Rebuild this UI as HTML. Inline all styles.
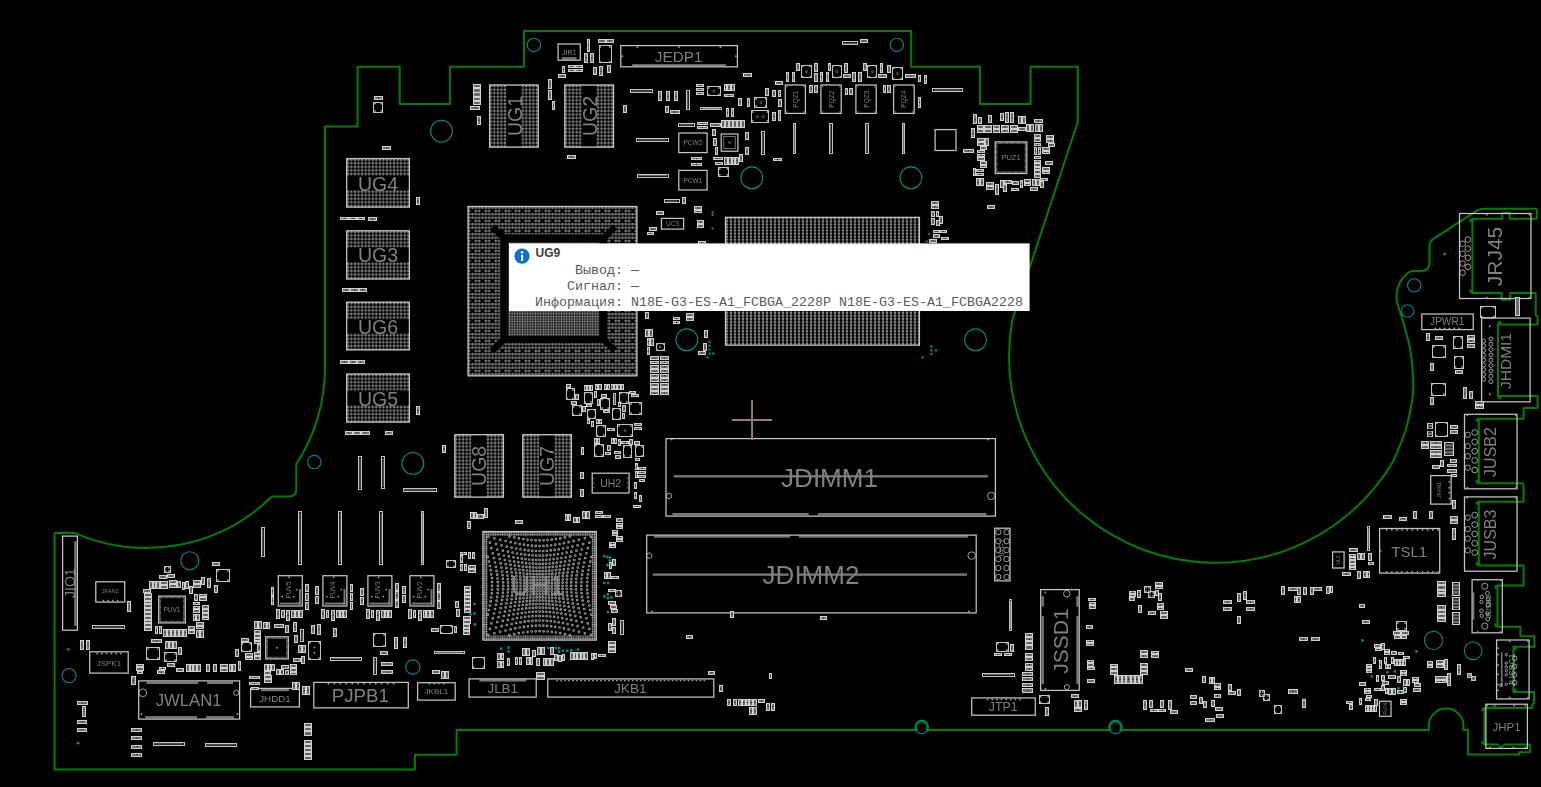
<!DOCTYPE html>
<html><head><meta charset="utf-8"><title>Board view</title>
<style>
html,body{margin:0;padding:0;background:#000;overflow:hidden}
svg{display:block}
#brd{will-change:transform}
#tip{position:absolute;left:0;top:0}
text{font-family:"Liberation Sans",sans-serif}
.m{font-family:"Liberation Mono",monospace;font-size:13.33px;fill:#5c5c5c}
.b{font-family:"Liberation Sans",sans-serif;font-weight:bold;font-size:12px;fill:#3c3c3c}
</style></head><body>
<svg id="brd" width="1541" height="787" viewBox="0 0 1541 787">
<defs>
<pattern id="p35" width="3.55" height="3.55" patternUnits="userSpaceOnUse"><circle cx="1.775" cy="1.775" r="1.3" fill="#909090"/><circle cx="1.775" cy="1.775" r="0.5" fill="#404040"/></pattern>
<pattern id="p33" width="3.32" height="3.32" patternUnits="userSpaceOnUse"><circle cx="1.66" cy="1.66" r="1.22" fill="#949494"/><circle cx="1.66" cy="1.66" r="0.45" fill="#404040"/></pattern>
<pattern id="pcpu" width="4" height="3.05" patternUnits="userSpaceOnUse"><ellipse cx="2" cy="1.52" rx="1.25" ry="1.3" fill="#989898"/><circle cx="2" cy="1.52" r="0.4" fill="#505050"/></pattern>
<pattern id="pfine" width="1.6" height="3" patternUnits="userSpaceOnUse"><rect x="0.25" y="0" width="1.05" height="3" fill="#b4b4b4"/></pattern>
<pattern id="pfinev" width="3" height="1.6" patternUnits="userSpaceOnUse"><rect x="0" y="0.25" width="3" height="1.05" fill="#b4b4b4"/></pattern>
<pattern id="pgpu" width="9.999" height="9.999" patternUnits="userSpaceOnUse"><circle cx="1.67" cy="1.67" r="1.22" fill="#949494"/><circle cx="1.67" cy="1.67" r="0.45" fill="#404040"/><circle cx="1.67" cy="5.00" r="1.22" fill="#949494"/><circle cx="1.67" cy="5.00" r="0.45" fill="#404040"/><circle cx="1.67" cy="8.33" r="1.22" fill="#949494"/><circle cx="1.67" cy="8.33" r="0.45" fill="#404040"/><circle cx="5.00" cy="1.67" r="1.22" fill="#949494"/><circle cx="5.00" cy="1.67" r="0.45" fill="#404040"/><circle cx="5.00" cy="8.33" r="1.22" fill="#949494"/><circle cx="5.00" cy="8.33" r="0.45" fill="#404040"/><circle cx="8.33" cy="1.67" r="1.22" fill="#949494"/><circle cx="8.33" cy="1.67" r="0.45" fill="#404040"/><circle cx="8.33" cy="5.00" r="1.22" fill="#949494"/><circle cx="8.33" cy="5.00" r="0.45" fill="#404040"/><circle cx="8.33" cy="8.33" r="1.22" fill="#949494"/><circle cx="8.33" cy="8.33" r="0.45" fill="#404040"/></pattern>
<pattern id="pcore" width="2.6" height="2.6" patternUnits="userSpaceOnUse"><circle cx="1.3" cy="1.3" r="1.05" fill="#8c8c8c"/></pattern>
<pattern id="pring" width="2.3" height="2.3" patternUnits="userSpaceOnUse"><circle cx="1.15" cy="1.15" r="0.95" fill="#b0b0b0"/></pattern>
</defs>

<rect width="1541" height="787" fill="#000"/>
<path d="M325,126.4 H357.6 V66.7 H399.7 V104.1 H450 V66.7 H524 V30.9 H911.2 V66.7 H980 V104.1 H1030.6 V66.7 H1077.8 V122 L1012.3,320 A206.4,206.4 0 0 0 1393.4,461 C1395.4,455.9 1402.4,440.7 1405.5,430.5 C1408.6,420.3 1410.9,407.9 1412.2,400 C1413.5,392.1 1413.6,391.2 1413.3,383 C1413,374.8 1412.2,361.4 1410.5,351 C1408.8,340.6 1405.1,329.2 1402.8,320.5 C1400.5,311.8 1397.1,305.2 1396.6,299 C1396.1,292.8 1397.5,287.5 1399.6,283 C1401.7,278.5 1406.3,274.2 1409,272.2 C1411.7,270.2 1414.8,271.1 1416,270.9 H1421.5 Q1429.5,271 1429.5,262 V246 Q1429.5,241 1434.5,238.2 L1477,210.6 Q1480,208.7 1484,208.7 H1535.4 Q1536.8,208.7 1536.8,210.1 V218.8 H1509.8 V213.1 H1502.2 V218.8 H1472.4 V290.8 V293.1 H1501.7 V299.7 H1510.3 V293.1 H1535.7 V315 L1537.6,316.8 V324.4 H1498 V396 H1537.6 V408 H1523.6 V418.8 H1478.8 V483.3 H1522.2 Q1523.6,483.3 1523.6,484.7 V501.8 H1478.8 V565.5 H1522.2 Q1523.6,565.5 1523.6,566.9 V585.4 H1497.5 V626.7 H1520.4 V636.2 H1534.4 V646.8 H1513.4 V692 H1534.1 V702.8 L1532.4,704.5 V708 H1484.4 V744.4 H1497.7 Q1501,750 1504.3,744.4 H1529.9 V752.3 H1519.2 V754.5 H1468 V730 H1463.5 V725.9 A17.35,17.35 0 0 0 1428.8,725.9 V730 H1120.2 A5.5,5.5 0 1 0 1110.8,730 H926.4 A5.5,5.5 0 1 0 917,730 H456.6 V754.8 H414.9 V769.4 H54.6 V532.9 H74.3 A179.5,179.5 0 0 0 271.9,496.5 H289 Q296.3,496.5 296.3,489 V464.2 A179.5,179.5 0 0 0 325,368.5 Z" fill="none" stroke="#008000" stroke-width="2" stroke-linejoin="round"/>
<circle cx="1471.4" cy="220.6" r="1.7" fill="#008000" stroke="#008000" stroke-width="0.6"/>
<circle cx="1471.4" cy="291.3" r="1.7" fill="#008000" stroke="#008000" stroke-width="0.6"/>
<circle cx="1499.6" cy="322.8" r="1.7" fill="#008000" stroke="#008000" stroke-width="0.6"/>
<circle cx="1499.6" cy="397.4" r="1.7" fill="#008000" stroke="#008000" stroke-width="0.6"/>
<circle cx="1477.6" cy="420.3" r="1.7" fill="#008000" stroke="#008000" stroke-width="0.6"/>
<circle cx="1477.6" cy="481.8" r="1.7" fill="#008000" stroke="#008000" stroke-width="0.6"/>
<circle cx="1477.6" cy="503.3" r="1.7" fill="#008000" stroke="#008000" stroke-width="0.6"/>
<circle cx="1477.6" cy="564" r="1.7" fill="#008000" stroke="#008000" stroke-width="0.6"/>
<circle cx="1496.2" cy="587" r="1.7" fill="#008000" stroke="#008000" stroke-width="0.6"/>
<circle cx="1496.2" cy="625.2" r="1.7" fill="#008000" stroke="#008000" stroke-width="0.6"/>
<circle cx="1514.8" cy="648.3" r="1.7" fill="#008000" stroke="#008000" stroke-width="0.6"/>
<circle cx="1514.8" cy="690.6" r="1.7" fill="#008000" stroke="#008000" stroke-width="0.6"/>
<circle cx="1483.2" cy="709.6" r="1.7" fill="#008000" stroke="#008000" stroke-width="0.6"/>
<circle cx="1483.2" cy="742.8" r="1.7" fill="#008000" stroke="#008000" stroke-width="0.6"/>
<circle cx="1494.6" cy="706.5" r="1.7" fill="#008000" stroke="#008000" stroke-width="0.6"/>
<circle cx="921.7" cy="727.1" r="6.7" fill="none" stroke="#008b8b" stroke-width="1.1"/>
<circle cx="1115.5" cy="727.1" r="6.7" fill="none" stroke="#008b8b" stroke-width="1.1"/>
<rect transform="translate(489 84.4)" width="49.8" height="63.3" fill="url(#p35)"/>
<rect x="506.9" y="85.2" width="14.5" height="61.7" fill="#000" stroke="none" stroke-width="0"/>
<rect x="489.6" y="85" width="48.6" height="62.1" fill="none" stroke="#c4c4c4" stroke-width="1.3"/>
<text x="514.6" y="116" font-size="19.5" fill="#808080" text-anchor="middle" dominant-baseline="central" transform="rotate(-90 514.6 116)">UG1</text>
<rect transform="translate(564.2 84.4)" width="49.9" height="63.3" fill="url(#p35)"/>
<rect x="582.2" y="85.2" width="14.2" height="61.7" fill="#000" stroke="none" stroke-width="0"/>
<rect x="564.8" y="85" width="48.7" height="62.1" fill="none" stroke="#c4c4c4" stroke-width="1.3"/>
<text x="589.8" y="116" font-size="19.5" fill="#808080" text-anchor="middle" dominant-baseline="central" transform="rotate(-90 589.8 116)">UG2</text>
<rect transform="translate(454.2 434.1)" width="49.8" height="63.6" fill="url(#p35)"/>
<rect x="471.3" y="434.9" width="15.1" height="62" fill="#000" stroke="none" stroke-width="0"/>
<rect x="454.8" y="434.7" width="48.6" height="62.4" fill="none" stroke="#c4c4c4" stroke-width="1.3"/>
<text x="479.4" y="465.9" font-size="19.5" fill="#808080" text-anchor="middle" dominant-baseline="central" transform="rotate(-90 479.4 465.9)">UG8</text>
<rect transform="translate(522.2 434.1)" width="49.8" height="63.6" fill="url(#p35)"/>
<rect x="539.3" y="434.9" width="15.1" height="62" fill="#000" stroke="none" stroke-width="0"/>
<rect x="522.8" y="434.7" width="48.6" height="62.4" fill="none" stroke="#c4c4c4" stroke-width="1.3"/>
<text x="547.3" y="465.9" font-size="19.5" fill="#808080" text-anchor="middle" dominant-baseline="central" transform="rotate(-90 547.3 465.9)">UG7</text>
<rect transform="translate(346.1 158)" width="63.9" height="49.7" fill="url(#p35)"/>
<rect x="346.9" y="176" width="62.3" height="14" fill="#000" stroke="none" stroke-width="0"/>
<rect x="346.7" y="158.6" width="62.7" height="48.5" fill="none" stroke="#c4c4c4" stroke-width="1.3"/>
<text x="378.1" y="183.6" font-size="19.5" fill="#808080" text-anchor="middle" dominant-baseline="central">UG4</text>
<rect transform="translate(346.1 230.2)" width="63.9" height="49.4" fill="url(#p35)"/>
<rect x="346.9" y="247.6" width="62.3" height="14.3" fill="#000" stroke="none" stroke-width="0"/>
<rect x="346.7" y="230.8" width="62.7" height="48.2" fill="none" stroke="#c4c4c4" stroke-width="1.3"/>
<text x="378.1" y="255.3" font-size="19.5" fill="#808080" text-anchor="middle" dominant-baseline="central">UG3</text>
<rect transform="translate(346.1 301.6)" width="63.9" height="48.8" fill="url(#p35)"/>
<rect x="346.9" y="319" width="62.3" height="14.3" fill="#000" stroke="none" stroke-width="0"/>
<rect x="346.7" y="302.2" width="62.7" height="47.6" fill="none" stroke="#c4c4c4" stroke-width="1.3"/>
<text x="378.1" y="326.8" font-size="19.5" fill="#808080" text-anchor="middle" dominant-baseline="central">UG6</text>
<rect transform="translate(346.1 373.4)" width="63.9" height="49.3" fill="url(#p35)"/>
<rect x="346.9" y="390.8" width="62.3" height="14.2" fill="#000" stroke="none" stroke-width="0"/>
<rect x="346.7" y="374" width="62.7" height="48.1" fill="none" stroke="#c4c4c4" stroke-width="1.3"/>
<text x="378.1" y="398.5" font-size="19.5" fill="#808080" text-anchor="middle" dominant-baseline="central">UG5</text>
<circle cx="441.5" cy="131.1" r="10.9" fill="none" stroke="#008b8b" stroke-width="1.1"/>
<circle cx="533.9" cy="44.9" r="6.7" fill="none" stroke="#008b8b" stroke-width="1.1"/>
<rect x="558.1" y="44" width="22.2" height="16.2" fill="none" stroke="#c4c4c4" stroke-width="1.25"/>
<text x="569.2" y="52.1" font-size="7" fill="#808080" text-anchor="middle" dominant-baseline="central">JIR1</text>
<rect x="562.2" y="57.4" width="14" height="2.2" fill="url(#pfine)" stroke="#8a8a8a" stroke-width="0.5"/>
<rect x="620.8" y="45.6" width="116.6" height="21.2" fill="none" stroke="#c4c4c4" stroke-width="1.25"/>
<text x="678.6" y="56.5" font-size="15.3" fill="#808080" text-anchor="middle" dominant-baseline="central">JEDP1</text>
<rect x="632.2" y="64.1" width="93.6" height="2.4" fill="url(#pfine)" stroke="none" stroke-width="0"/>
<circle cx="896.9" cy="44.9" r="6.7" fill="none" stroke="#008b8b" stroke-width="1.1"/>
<circle cx="751.8" cy="177.8" r="10.9" fill="none" stroke="#008b8b" stroke-width="1.1"/>
<circle cx="910.9" cy="177.8" r="10.9" fill="none" stroke="#008b8b" stroke-width="1.1"/>
<circle cx="806.5" cy="71.7" r="1" fill="none" stroke="#8a8a8a" stroke-width="0.7"/>
<circle cx="836.9" cy="71.7" r="1" fill="none" stroke="#8a8a8a" stroke-width="0.7"/>
<circle cx="872.5" cy="71.7" r="1" fill="none" stroke="#8a8a8a" stroke-width="0.7"/>
<circle cx="897.4" cy="73.5" r="1" fill="none" stroke="#8a8a8a" stroke-width="0.7"/>
<circle cx="713.9" cy="91.1" r="1" fill="none" stroke="#8a8a8a" stroke-width="0.7"/>
<circle cx="760.9" cy="102.5" r="1" fill="none" stroke="#8a8a8a" stroke-width="0.7"/>
<circle cx="757.5" cy="116.6" r="1" fill="none" stroke="#8a8a8a" stroke-width="0.7"/>
<circle cx="763.2" cy="116.6" r="1" fill="none" stroke="#8a8a8a" stroke-width="0.7"/>
<rect x="785.3" y="85" width="20.1" height="28.4" fill="none" stroke="#c4c4c4" stroke-width="1.25"/>
<text x="795.4" y="99.2" font-size="6.5" fill="#808080" text-anchor="middle" dominant-baseline="central" transform="rotate(-90 795.4 99.2)">PQZ1</text>
<circle cx="786.9" cy="86.6" r="0.6" fill="none" stroke="#8a8a8a" stroke-width="0.5"/>
<circle cx="803.8" cy="86.6" r="0.6" fill="none" stroke="#8a8a8a" stroke-width="0.5"/>
<circle cx="786.9" cy="111.8" r="0.6" fill="none" stroke="#8a8a8a" stroke-width="0.5"/>
<circle cx="803.8" cy="111.8" r="0.6" fill="none" stroke="#8a8a8a" stroke-width="0.5"/>
<rect x="820.9" y="85" width="20.3" height="28.4" fill="none" stroke="#c4c4c4" stroke-width="1.25"/>
<text x="831.1" y="99.2" font-size="6.5" fill="#808080" text-anchor="middle" dominant-baseline="central" transform="rotate(-90 831.1 99.2)">PQZ2</text>
<circle cx="822.5" cy="86.6" r="0.6" fill="none" stroke="#8a8a8a" stroke-width="0.5"/>
<circle cx="839.6" cy="86.6" r="0.6" fill="none" stroke="#8a8a8a" stroke-width="0.5"/>
<circle cx="822.5" cy="111.8" r="0.6" fill="none" stroke="#8a8a8a" stroke-width="0.5"/>
<circle cx="839.6" cy="111.8" r="0.6" fill="none" stroke="#8a8a8a" stroke-width="0.5"/>
<rect x="855.9" y="85" width="20.3" height="28.4" fill="none" stroke="#c4c4c4" stroke-width="1.25"/>
<text x="866.1" y="99.2" font-size="6.5" fill="#808080" text-anchor="middle" dominant-baseline="central" transform="rotate(-90 866.1 99.2)">PQZ3</text>
<circle cx="857.5" cy="86.6" r="0.6" fill="none" stroke="#8a8a8a" stroke-width="0.5"/>
<circle cx="874.7" cy="86.6" r="0.6" fill="none" stroke="#8a8a8a" stroke-width="0.5"/>
<circle cx="857.5" cy="111.8" r="0.6" fill="none" stroke="#8a8a8a" stroke-width="0.5"/>
<circle cx="874.7" cy="111.8" r="0.6" fill="none" stroke="#8a8a8a" stroke-width="0.5"/>
<rect x="893.6" y="85" width="20.6" height="28.4" fill="none" stroke="#c4c4c4" stroke-width="1.25"/>
<text x="903.9" y="99.2" font-size="6.5" fill="#808080" text-anchor="middle" dominant-baseline="central" transform="rotate(-90 903.9 99.2)">PQZ4</text>
<circle cx="895.2" cy="86.6" r="0.6" fill="none" stroke="#8a8a8a" stroke-width="0.5"/>
<circle cx="912.6" cy="86.6" r="0.6" fill="none" stroke="#8a8a8a" stroke-width="0.5"/>
<circle cx="895.2" cy="111.8" r="0.6" fill="none" stroke="#8a8a8a" stroke-width="0.5"/>
<circle cx="912.6" cy="111.8" r="0.6" fill="none" stroke="#8a8a8a" stroke-width="0.5"/>
<rect x="721.2" y="134" width="16.7" height="17.2" fill="none" stroke="#c4c4c4" stroke-width="1.25"/>
<rect x="723.8" y="136.6" width="11.5" height="12" fill="none" stroke="#8a8a8a" stroke-width="0.8"/>
<circle cx="729.6" cy="142.6" r="1" fill="none" stroke="#8a8a8a" stroke-width="0.7"/>
<rect x="678.8" y="133" width="28.3" height="19.6" fill="none" stroke="#c4c4c4" stroke-width="1.25"/>
<text x="692.9" y="142.8" font-size="6.5" fill="#808080" text-anchor="middle" dominant-baseline="central">PCW2</text>
<rect x="678.8" y="170.4" width="28.3" height="19.6" fill="none" stroke="#c4c4c4" stroke-width="1.25"/>
<text x="692.9" y="180.2" font-size="6.5" fill="#808080" text-anchor="middle" dominant-baseline="central">PCW1</text>
<rect x="935.1" y="129.6" width="20.9" height="20.9" fill="none" stroke="#c4c4c4" stroke-width="1.25"/>
<circle cx="712.6" cy="212.1" r="1.2" fill="#008b8b" stroke="#008b8b" stroke-width="0"/>
<circle cx="712.6" cy="214.7" r="1.2" fill="#008b8b" stroke="#008b8b" stroke-width="0"/>
<rect x="995.2" y="141.9" width="31.6" height="31.6" fill="none" stroke="#c4c4c4" stroke-width="1.25"/>
<text x="1011" y="157.7" font-size="7.5" fill="#808080" text-anchor="middle" dominant-baseline="central">PUZ1</text>
<rect x="996.6" y="143.3" width="28.8" height="28.8" fill="none" stroke="#8a8a8a" stroke-width="1.6" stroke-dasharray="0.7 0.5"/>
<circle cx="660.3" cy="347" r="1" fill="none" stroke="#8a8a8a" stroke-width="0.7"/>
<circle cx="686.8" cy="339.8" r="10.9" fill="none" stroke="#008b8b" stroke-width="1.1"/>
<rect x="661.4" y="218.4" width="22.2" height="10.7" fill="none" stroke="#c4c4c4" stroke-width="1.25"/>
<text x="672.5" y="223.7" font-size="6.5" fill="#808080" text-anchor="middle" dominant-baseline="central">UC3</text>
<rect transform="translate(467.5 205.9)" width="170" height="170.5" fill="url(#pgpu)"/>
<rect x="468.1" y="206.5" width="168.8" height="169.3" fill="none" stroke="#c4c4c4" stroke-width="1.3"/>
<rect transform="translate(506.7 240.8)" width="94" height="96" fill="#000"/>
<rect transform="translate(508.2 242.3)" width="91" height="93.6" fill="url(#pcore)"/>
<rect x="503.5" y="237.6" width="100.4" height="102.3" fill="none" stroke="#000" stroke-width="6.5"/>
<line x1="503.5" y1="237.6" x2="492.5" y2="227" stroke="#000" stroke-width="6.5"/>
<line x1="603.9" y1="237.6" x2="615" y2="227" stroke="#000" stroke-width="6.5"/>
<line x1="503.5" y1="339.9" x2="492.5" y2="350.5" stroke="#000" stroke-width="6.5"/>
<line x1="603.9" y1="339.9" x2="615" y2="350.5" stroke="#000" stroke-width="6.5"/>
<rect transform="translate(724.9 216.8)" width="195.1" height="128.9" fill="url(#pcpu)"/>
<rect x="725.5" y="217.4" width="193.9" height="127.7" fill="none" stroke="#c4c4c4" stroke-width="1.3"/>
<circle cx="975.5" cy="339.8" r="10.9" fill="none" stroke="#008b8b" stroke-width="1.1"/>
<circle cx="712.6" cy="228.4" r="1.2" fill="#008b8b" stroke="#008b8b" stroke-width="0"/>
<circle cx="929.3" cy="234.1" r="1.2" fill="#008b8b" stroke="#008b8b" stroke-width="0"/>
<circle cx="926.7" cy="241.4" r="1.2" fill="#008b8b" stroke="#008b8b" stroke-width="0"/>
<circle cx="709.5" cy="341.8" r="1.2" fill="#008b8b" stroke="#008b8b" stroke-width="0"/>
<circle cx="709.5" cy="345.7" r="1.2" fill="#008b8b" stroke="#008b8b" stroke-width="0"/>
<circle cx="709.5" cy="349.6" r="1.2" fill="#008b8b" stroke="#008b8b" stroke-width="0"/>
<circle cx="709.5" cy="353.5" r="1.2" fill="#008b8b" stroke="#008b8b" stroke-width="0"/>
<circle cx="713.4" cy="353.5" r="1.2" fill="#008b8b" stroke="#008b8b" stroke-width="0"/>
<circle cx="707.4" cy="357.4" r="1.2" fill="#008b8b" stroke="#008b8b" stroke-width="0"/>
<circle cx="931.4" cy="346.5" r="1.2" fill="#008b8b" stroke="#008b8b" stroke-width="0"/>
<circle cx="931.4" cy="350.4" r="1.2" fill="#008b8b" stroke="#008b8b" stroke-width="0"/>
<circle cx="931.4" cy="354" r="1.2" fill="#008b8b" stroke="#008b8b" stroke-width="0"/>
<circle cx="936.1" cy="350.4" r="1.2" fill="#008b8b" stroke="#008b8b" stroke-width="0"/>
<circle cx="922.6" cy="357.4" r="1.2" fill="#008b8b" stroke="#008b8b" stroke-width="0"/>
<circle cx="314.3" cy="462.1" r="6.7" fill="none" stroke="#008b8b" stroke-width="1.1"/>
<circle cx="412.9" cy="463.4" r="10.9" fill="none" stroke="#008b8b" stroke-width="1.1"/>
<circle cx="625" cy="430.5" r="1" fill="none" stroke="#8a8a8a" stroke-width="0.7"/>
<rect x="592.2" y="473.2" width="36.9" height="19.8" fill="none" stroke="#c4c4c4" stroke-width="1.25"/>
<text x="610.7" y="483.1" font-size="10.5" fill="#808080" text-anchor="middle" dominant-baseline="central">UH2</text>
<circle cx="593.8" cy="478.6" r="0.6" fill="none" stroke="#8a8a8a" stroke-width="0.5"/>
<circle cx="627.5" cy="478.6" r="0.6" fill="none" stroke="#8a8a8a" stroke-width="0.5"/>
<circle cx="593.8" cy="483.1" r="0.6" fill="none" stroke="#8a8a8a" stroke-width="0.5"/>
<circle cx="627.5" cy="483.1" r="0.6" fill="none" stroke="#8a8a8a" stroke-width="0.5"/>
<circle cx="593.8" cy="487.6" r="0.6" fill="none" stroke="#8a8a8a" stroke-width="0.5"/>
<circle cx="627.5" cy="487.6" r="0.6" fill="none" stroke="#8a8a8a" stroke-width="0.5"/>
<circle cx="474.5" cy="603.9" r="1.4" fill="#008b8b" stroke="#008b8b" stroke-width="0"/>
<circle cx="474.5" cy="613.4" r="1.4" fill="#008b8b" stroke="#008b8b" stroke-width="0"/>
<circle cx="470.5" cy="614.4" r="1.4" fill="#008b8b" stroke="#008b8b" stroke-width="0"/>
<circle cx="474.9" cy="624.5" r="1.4" fill="#008b8b" stroke="#008b8b" stroke-width="0"/>
<circle cx="604.3" cy="556.2" r="1.4" fill="#008b8b" stroke="#008b8b" stroke-width="0"/>
<circle cx="607.4" cy="557.2" r="1.4" fill="#008b8b" stroke="#008b8b" stroke-width="0"/>
<circle cx="610.1" cy="557.6" r="1.4" fill="#008b8b" stroke="#008b8b" stroke-width="0"/>
<circle cx="607.4" cy="565.2" r="1.4" fill="#008b8b" stroke="#008b8b" stroke-width="0"/>
<circle cx="610.1" cy="560.6" r="1.4" fill="#008b8b" stroke="#008b8b" stroke-width="0"/>
<circle cx="604.3" cy="583.1" r="1.4" fill="#008b8b" stroke="#008b8b" stroke-width="0"/>
<circle cx="608.2" cy="583.1" r="1.4" fill="#008b8b" stroke="#008b8b" stroke-width="0"/>
<circle cx="604.3" cy="596.5" r="1.4" fill="#008b8b" stroke="#008b8b" stroke-width="0"/>
<circle cx="607.8" cy="594.4" r="1.4" fill="#008b8b" stroke="#008b8b" stroke-width="0"/>
<circle cx="607.8" cy="598.2" r="1.4" fill="#008b8b" stroke="#008b8b" stroke-width="0"/>
<circle cx="611.6" cy="597.4" r="1.4" fill="#008b8b" stroke="#008b8b" stroke-width="0"/>
<circle cx="607.8" cy="612.1" r="1.4" fill="#008b8b" stroke="#008b8b" stroke-width="0"/>
<circle cx="501.2" cy="648.7" r="1.4" fill="#008b8b" stroke="#008b8b" stroke-width="0"/>
<circle cx="508.6" cy="647.7" r="1.4" fill="#008b8b" stroke="#008b8b" stroke-width="0"/>
<circle cx="508.6" cy="651.6" r="1.4" fill="#008b8b" stroke="#008b8b" stroke-width="0"/>
<circle cx="548.3" cy="648.1" r="1.4" fill="#008b8b" stroke="#008b8b" stroke-width="0"/>
<circle cx="555.9" cy="648.1" r="1.4" fill="#008b8b" stroke="#008b8b" stroke-width="0"/>
<circle cx="559.2" cy="648.1" r="1.4" fill="#008b8b" stroke="#008b8b" stroke-width="0"/>
<circle cx="559.2" cy="651.6" r="1.4" fill="#008b8b" stroke="#008b8b" stroke-width="0"/>
<circle cx="563" cy="650.6" r="1.4" fill="#008b8b" stroke="#008b8b" stroke-width="0"/>
<circle cx="567.2" cy="650.8" r="1.4" fill="#008b8b" stroke="#008b8b" stroke-width="0"/>
<circle cx="571.4" cy="650.2" r="1.4" fill="#008b8b" stroke="#008b8b" stroke-width="0"/>
<circle cx="578" cy="649.6" r="1.4" fill="#008b8b" stroke="#008b8b" stroke-width="0"/>
<path d="M487.9,557h0M489,561.6h0M489.9,566h0M490.7,570.2h0M491.3,574.3h0M491.8,578.2h0M492,582h0M492.1,585.8h0M492,589.6h0M491.8,593.4h0M491.3,597.3h0M490.7,601.4h0M489.9,605.6h0M489,610h0M487.9,614.6h0M488.3,536.8h0M489.9,542.7h0M491.4,548.2h0M492.8,553.3h0M494,558.1h0M495,562.6h0M495.9,566.8h0M496.6,570.9h0M497.2,574.7h0M497.6,578.5h0M497.8,582.2h0M497.9,585.8h0M497.8,589.4h0M497.6,593.1h0M497.2,596.9h0M496.6,600.7h0M495.9,604.8h0M495,609h0M494,613.5h0M492.8,618.3h0M491.4,623.4h0M489.9,628.9h0M488.3,634.8h0M494.4,538.3h0M496,544.1h0M497.3,549.5h0M498.6,554.4h0M499.7,559.1h0M500.6,563.4h0M501.4,567.6h0M502.1,571.5h0M502.6,575.2h0M502.9,578.8h0M503.1,582.3h0M503.2,585.8h0M503.1,589.3h0M502.9,592.8h0M502.6,596.4h0M502.1,600.1h0M501.4,604h0M500.6,608.2h0M499.7,612.5h0M498.6,617.2h0M497.3,622.1h0M496,627.5h0M494.4,633.3h0M500.2,539.8h0M501.6,545.4h0M502.8,550.7h0M503.9,555.5h0M504.9,560h0M505.7,564.2h0M506.5,568.2h0M507,572h0M507.5,575.6h0M507.8,579.1h0M508,582.4h0M508.1,585.8h0M508,589.2h0M507.8,592.5h0M507.5,596h0M507,599.6h0M506.5,603.4h0M505.7,607.4h0M504.9,611.6h0M503.9,616.1h0M502.8,620.9h0M501.6,626.2h0M500.2,631.8h0M505.6,541.1h0M506.8,546.6h0M507.9,551.7h0M508.9,556.4h0M509.7,560.8h0M510.5,564.9h0M511.1,568.8h0M511.6,572.4h0M512.1,575.9h0M512.3,579.3h0M512.5,582.6h0M512.6,585.8h0M512.5,589h0M512.3,592.3h0M512.1,595.7h0M511.6,599.2h0M511.1,602.8h0M510.5,606.7h0M509.7,610.8h0M508.9,615.2h0M507.9,619.9h0M506.8,625h0M505.6,630.5h0M509.4,536.4h0M510.6,542.2h0M511.6,547.6h0M512.6,552.6h0M513.5,557.3h0M514.2,561.6h0M514.9,565.6h0M515.4,569.3h0M515.9,572.9h0M516.3,576.2h0M516.5,579.5h0M516.7,582.7h0M516.7,585.8h0M516.7,588.9h0M516.5,592.1h0M516.3,595.4h0M515.9,598.7h0M515.4,602.3h0M514.9,606h0M514.2,610h0M513.5,614.3h0M512.6,619h0M511.6,624h0M510.6,629.4h0M509.4,635.2h0M514.3,537.4h0M515.3,543.2h0M516.2,548.5h0M517,553.5h0M517.8,558h0M518.4,562.2h0M519,566.1h0M519.5,569.8h0M519.9,573.2h0M520.2,576.5h0M520.4,579.7h0M520.5,582.8h0M520.5,585.8h0M520.5,588.8h0M520.4,591.9h0M520.2,595.1h0M519.9,598.4h0M519.5,601.8h0M519,605.5h0M518.4,609.4h0M517.8,613.6h0M517,618.1h0M516.2,623.1h0M515.3,628.4h0M514.3,634.2h0M518.9,538.4h0M519.7,544.1h0M520.5,549.3h0M521.2,554.1h0M521.8,558.6h0M522.3,562.7h0M522.8,566.6h0M523.2,570.1h0M523.5,573.5h0M523.8,576.7h0M524,579.8h0M524.1,582.8h0M524.1,585.8h0M524.1,588.8h0M524,591.8h0M523.8,594.9h0M523.5,598.1h0M523.2,601.5h0M522.8,605h0M522.3,608.9h0M521.8,613h0M521.2,617.5h0M520.5,622.3h0M519.7,627.5h0M518.9,633.2h0M523.3,539.1h0M524,544.7h0M524.6,549.9h0M525.1,554.7h0M525.6,559.1h0M526.1,563.2h0M526.4,566.9h0M526.8,570.5h0M527,573.8h0M527.2,576.9h0M527.4,580h0M527.4,582.9h0M527.5,585.8h0M527.4,588.7h0M527.4,591.6h0M527.2,594.7h0M527,597.8h0M526.8,601.1h0M526.4,604.7h0M526.1,608.4h0M525.6,612.5h0M525.1,616.9h0M524.6,621.7h0M524,626.9h0M523.3,632.5h0M527.5,539.7h0M528,545.3h0M528.5,550.4h0M528.9,555.1h0M529.3,559.5h0M529.6,563.5h0M529.9,567.2h0M530.1,570.7h0M530.3,574h0M530.5,577.1h0M530.6,580.1h0M530.6,582.9h0M530.7,585.8h0M530.6,588.7h0M530.6,591.5h0M530.5,594.5h0M530.3,597.6h0M530.1,600.9h0M529.9,604.4h0M529.6,608.1h0M529.3,612.1h0M528.9,616.5h0M528.5,621.2h0M528,626.3h0M527.5,631.9h0M531.6,540.1h0M532,545.7h0M532.3,550.8h0M532.5,555.4h0M532.8,559.8h0M533,563.7h0M533.2,567.4h0M533.4,570.9h0M533.5,574.1h0M533.6,577.2h0M533.7,580.1h0M533.7,583h0M533.7,585.8h0M533.7,588.6h0M533.7,591.5h0M533.6,594.4h0M533.5,597.5h0M533.4,600.7h0M533.2,604.2h0M533,607.9h0M532.8,611.8h0M532.5,616.2h0M532.3,620.8h0M532,625.9h0M531.6,631.5h0M535.6,540.3h0M535.8,545.9h0M536,551h0M536.1,555.6h0M536.2,559.9h0M536.3,563.9h0M536.4,567.6h0M536.5,571h0M536.6,574.2h0M536.6,577.2h0M536.6,580.2h0M536.7,583h0M536.7,585.8h0M536.7,588.6h0M536.6,591.4h0M536.6,594.4h0M536.6,597.4h0M536.5,600.6h0M536.4,604h0M536.3,607.7h0M536.2,611.7h0M536.1,616h0M536,620.6h0M535.8,625.7h0M535.6,631.3h0M539.6,540.4h0M539.6,546h0M539.6,551h0M539.6,555.7h0M539.6,560h0M539.6,563.9h0M539.6,567.6h0M539.6,571h0M539.6,574.2h0M539.6,577.3h0M539.6,580.2h0M539.6,583h0M539.6,585.8h0M539.6,588.6h0M539.6,591.4h0M539.6,594.3h0M539.6,597.4h0M539.6,600.6h0M539.6,604h0M539.6,607.7h0M539.6,611.6h0M539.6,615.9h0M539.6,620.6h0M539.6,625.6h0M539.6,631.2h0M543.6,540.3h0M543.4,545.9h0M543.2,551h0M543.1,555.6h0M543,559.9h0M542.9,563.9h0M542.8,567.6h0M542.7,571h0M542.6,574.2h0M542.6,577.2h0M542.6,580.2h0M542.5,583h0M542.5,585.8h0M542.5,588.6h0M542.6,591.4h0M542.6,594.4h0M542.6,597.4h0M542.7,600.6h0M542.8,604h0M542.9,607.7h0M543,611.7h0M543.1,616h0M543.2,620.6h0M543.4,625.7h0M543.6,631.3h0M547.6,540.1h0M547.2,545.7h0M546.9,550.8h0M546.7,555.4h0M546.4,559.8h0M546.2,563.7h0M546,567.4h0M545.8,570.9h0M545.7,574.1h0M545.6,577.2h0M545.5,580.1h0M545.5,583h0M545.5,585.8h0M545.5,588.6h0M545.5,591.5h0M545.6,594.4h0M545.7,597.5h0M545.8,600.7h0M546,604.2h0M546.2,607.9h0M546.4,611.8h0M546.7,616.2h0M546.9,620.8h0M547.2,625.9h0M547.6,631.5h0M551.7,539.7h0M551.2,545.3h0M550.7,550.4h0M550.3,555.1h0M549.9,559.5h0M549.6,563.5h0M549.3,567.2h0M549.1,570.7h0M548.9,574h0M548.7,577.1h0M548.6,580.1h0M548.6,582.9h0M548.5,585.8h0M548.6,588.7h0M548.6,591.5h0M548.7,594.5h0M548.9,597.6h0M549.1,600.9h0M549.3,604.4h0M549.6,608.1h0M549.9,612.1h0M550.3,616.5h0M550.7,621.2h0M551.2,626.3h0M551.7,631.9h0M555.9,539.1h0M555.2,544.7h0M554.6,549.9h0M554.1,554.7h0M553.6,559.1h0M553.1,563.2h0M552.8,566.9h0M552.4,570.5h0M552.2,573.8h0M552,576.9h0M551.8,580h0M551.8,582.9h0M551.7,585.8h0M551.8,588.7h0M551.8,591.6h0M552,594.7h0M552.2,597.8h0M552.4,601.1h0M552.8,604.7h0M553.1,608.4h0M553.6,612.5h0M554.1,616.9h0M554.6,621.7h0M555.2,626.9h0M555.9,632.5h0M560.3,538.4h0M559.5,544.1h0M558.7,549.3h0M558,554.1h0M557.4,558.6h0M556.9,562.7h0M556.4,566.6h0M556,570.1h0M555.7,573.5h0M555.4,576.7h0M555.2,579.8h0M555.1,582.8h0M555.1,585.8h0M555.1,588.8h0M555.2,591.8h0M555.4,594.9h0M555.7,598.1h0M556,601.5h0M556.4,605h0M556.9,608.9h0M557.4,613h0M558,617.5h0M558.7,622.3h0M559.5,627.5h0M560.3,633.2h0M564.9,537.4h0M563.9,543.2h0M563,548.5h0M562.2,553.5h0M561.4,558h0M560.8,562.2h0M560.2,566.1h0M559.7,569.8h0M559.3,573.2h0M559,576.5h0M558.8,579.7h0M558.7,582.8h0M558.7,585.8h0M558.7,588.8h0M558.8,591.9h0M559,595.1h0M559.3,598.4h0M559.7,601.8h0M560.2,605.5h0M560.8,609.4h0M561.4,613.6h0M562.2,618.1h0M563,623.1h0M563.9,628.4h0M564.9,634.2h0M569.8,536.4h0M568.6,542.2h0M567.6,547.6h0M566.6,552.6h0M565.7,557.3h0M565,561.6h0M564.3,565.6h0M563.8,569.3h0M563.3,572.9h0M562.9,576.2h0M562.7,579.5h0M562.5,582.7h0M562.5,585.8h0M562.5,588.9h0M562.7,592.1h0M562.9,595.4h0M563.3,598.7h0M563.8,602.3h0M564.3,606h0M565,610h0M565.7,614.3h0M566.6,619h0M567.6,624h0M568.6,629.4h0M569.8,635.2h0M573.6,541.1h0M572.4,546.6h0M571.3,551.7h0M570.3,556.4h0M569.5,560.8h0M568.7,564.9h0M568.1,568.8h0M567.6,572.4h0M567.1,575.9h0M566.9,579.3h0M566.7,582.6h0M566.6,585.8h0M566.7,589h0M566.9,592.3h0M567.1,595.7h0M567.6,599.2h0M568.1,602.8h0M568.7,606.7h0M569.5,610.8h0M570.3,615.2h0M571.3,619.9h0M572.4,625h0M573.6,630.5h0M579,539.8h0M577.6,545.4h0M576.4,550.7h0M575.3,555.5h0M574.3,560h0M573.5,564.2h0M572.7,568.2h0M572.2,572h0M571.7,575.6h0M571.4,579.1h0M571.2,582.4h0M571.1,585.8h0M571.2,589.2h0M571.4,592.5h0M571.7,596h0M572.2,599.6h0M572.7,603.4h0M573.5,607.4h0M574.3,611.6h0M575.3,616.1h0M576.4,620.9h0M577.6,626.2h0M579,631.8h0M584.8,538.3h0M583.2,544.1h0M581.9,549.5h0M580.6,554.4h0M579.5,559.1h0M578.6,563.4h0M577.8,567.6h0M577.1,571.5h0M576.6,575.2h0M576.3,578.8h0M576.1,582.3h0M576,585.8h0M576.1,589.3h0M576.3,592.8h0M576.6,596.4h0M577.1,600.1h0M577.8,604h0M578.6,608.2h0M579.5,612.5h0M580.6,617.2h0M581.9,622.1h0M583.2,627.5h0M584.8,633.3h0M590.9,536.8h0M589.3,542.7h0M587.8,548.2h0M586.4,553.3h0M585.2,558.1h0M584.2,562.6h0M583.3,566.8h0M582.6,570.9h0M582,574.7h0M581.6,578.5h0M581.4,582.2h0M581.3,585.8h0M581.4,589.4h0M581.6,593.1h0M582,596.9h0M582.6,600.7h0M583.3,604.8h0M584.2,609h0M585.2,613.5h0M586.4,618.3h0M587.8,623.4h0M589.3,628.9h0M590.9,634.8h0M591.3,557h0M590.2,561.6h0M589.3,566h0M588.5,570.2h0M587.9,574.3h0M587.4,578.2h0M587.2,582h0M587.1,585.8h0M587.2,589.6h0M587.4,593.4h0M587.9,597.3h0M588.5,601.4h0M589.3,605.6h0M590.2,610h0M591.3,614.6h0" fill="none" stroke="#a0a0a0" stroke-width="2.7" stroke-linecap="round"/>
<path d="M487.9,557h0M489,561.6h0M489.9,566h0M490.7,570.2h0M491.3,574.3h0M491.8,578.2h0M492,582h0M492.1,585.8h0M492,589.6h0M491.8,593.4h0M491.3,597.3h0M490.7,601.4h0M489.9,605.6h0M489,610h0M487.9,614.6h0M488.3,536.8h0M489.9,542.7h0M491.4,548.2h0M492.8,553.3h0M494,558.1h0M495,562.6h0M495.9,566.8h0M496.6,570.9h0M497.2,574.7h0M497.6,578.5h0M497.8,582.2h0M497.9,585.8h0M497.8,589.4h0M497.6,593.1h0M497.2,596.9h0M496.6,600.7h0M495.9,604.8h0M495,609h0M494,613.5h0M492.8,618.3h0M491.4,623.4h0M489.9,628.9h0M488.3,634.8h0M494.4,538.3h0M496,544.1h0M497.3,549.5h0M498.6,554.4h0M499.7,559.1h0M500.6,563.4h0M501.4,567.6h0M502.1,571.5h0M502.6,575.2h0M502.9,578.8h0M503.1,582.3h0M503.2,585.8h0M503.1,589.3h0M502.9,592.8h0M502.6,596.4h0M502.1,600.1h0M501.4,604h0M500.6,608.2h0M499.7,612.5h0M498.6,617.2h0M497.3,622.1h0M496,627.5h0M494.4,633.3h0M500.2,539.8h0M501.6,545.4h0M502.8,550.7h0M503.9,555.5h0M504.9,560h0M505.7,564.2h0M506.5,568.2h0M507,572h0M507.5,575.6h0M507.8,579.1h0M508,582.4h0M508.1,585.8h0M508,589.2h0M507.8,592.5h0M507.5,596h0M507,599.6h0M506.5,603.4h0M505.7,607.4h0M504.9,611.6h0M503.9,616.1h0M502.8,620.9h0M501.6,626.2h0M500.2,631.8h0M505.6,541.1h0M506.8,546.6h0M507.9,551.7h0M508.9,556.4h0M509.7,560.8h0M510.5,564.9h0M511.1,568.8h0M511.6,572.4h0M512.1,575.9h0M512.3,579.3h0M512.5,582.6h0M512.6,585.8h0M512.5,589h0M512.3,592.3h0M512.1,595.7h0M511.6,599.2h0M511.1,602.8h0M510.5,606.7h0M509.7,610.8h0M508.9,615.2h0M507.9,619.9h0M506.8,625h0M505.6,630.5h0M509.4,536.4h0M510.6,542.2h0M511.6,547.6h0M512.6,552.6h0M513.5,557.3h0M514.2,561.6h0M514.9,565.6h0M515.4,569.3h0M515.9,572.9h0M516.3,576.2h0M516.5,579.5h0M516.7,582.7h0M516.7,585.8h0M516.7,588.9h0M516.5,592.1h0M516.3,595.4h0M515.9,598.7h0M515.4,602.3h0M514.9,606h0M514.2,610h0M513.5,614.3h0M512.6,619h0M511.6,624h0M510.6,629.4h0M509.4,635.2h0M514.3,537.4h0M515.3,543.2h0M516.2,548.5h0M517,553.5h0M517.8,558h0M518.4,562.2h0M519,566.1h0M519.5,569.8h0M519.9,573.2h0M520.2,576.5h0M520.4,579.7h0M520.5,582.8h0M520.5,585.8h0M520.5,588.8h0M520.4,591.9h0M520.2,595.1h0M519.9,598.4h0M519.5,601.8h0M519,605.5h0M518.4,609.4h0M517.8,613.6h0M517,618.1h0M516.2,623.1h0M515.3,628.4h0M514.3,634.2h0M518.9,538.4h0M519.7,544.1h0M520.5,549.3h0M521.2,554.1h0M521.8,558.6h0M522.3,562.7h0M522.8,566.6h0M523.2,570.1h0M523.5,573.5h0M523.8,576.7h0M524,579.8h0M524.1,582.8h0M524.1,585.8h0M524.1,588.8h0M524,591.8h0M523.8,594.9h0M523.5,598.1h0M523.2,601.5h0M522.8,605h0M522.3,608.9h0M521.8,613h0M521.2,617.5h0M520.5,622.3h0M519.7,627.5h0M518.9,633.2h0M523.3,539.1h0M524,544.7h0M524.6,549.9h0M525.1,554.7h0M525.6,559.1h0M526.1,563.2h0M526.4,566.9h0M526.8,570.5h0M527,573.8h0M527.2,576.9h0M527.4,580h0M527.4,582.9h0M527.5,585.8h0M527.4,588.7h0M527.4,591.6h0M527.2,594.7h0M527,597.8h0M526.8,601.1h0M526.4,604.7h0M526.1,608.4h0M525.6,612.5h0M525.1,616.9h0M524.6,621.7h0M524,626.9h0M523.3,632.5h0M527.5,539.7h0M528,545.3h0M528.5,550.4h0M528.9,555.1h0M529.3,559.5h0M529.6,563.5h0M529.9,567.2h0M530.1,570.7h0M530.3,574h0M530.5,577.1h0M530.6,580.1h0M530.6,582.9h0M530.7,585.8h0M530.6,588.7h0M530.6,591.5h0M530.5,594.5h0M530.3,597.6h0M530.1,600.9h0M529.9,604.4h0M529.6,608.1h0M529.3,612.1h0M528.9,616.5h0M528.5,621.2h0M528,626.3h0M527.5,631.9h0M531.6,540.1h0M532,545.7h0M532.3,550.8h0M532.5,555.4h0M532.8,559.8h0M533,563.7h0M533.2,567.4h0M533.4,570.9h0M533.5,574.1h0M533.6,577.2h0M533.7,580.1h0M533.7,583h0M533.7,585.8h0M533.7,588.6h0M533.7,591.5h0M533.6,594.4h0M533.5,597.5h0M533.4,600.7h0M533.2,604.2h0M533,607.9h0M532.8,611.8h0M532.5,616.2h0M532.3,620.8h0M532,625.9h0M531.6,631.5h0M535.6,540.3h0M535.8,545.9h0M536,551h0M536.1,555.6h0M536.2,559.9h0M536.3,563.9h0M536.4,567.6h0M536.5,571h0M536.6,574.2h0M536.6,577.2h0M536.6,580.2h0M536.7,583h0M536.7,585.8h0M536.7,588.6h0M536.6,591.4h0M536.6,594.4h0M536.6,597.4h0M536.5,600.6h0M536.4,604h0M536.3,607.7h0M536.2,611.7h0M536.1,616h0M536,620.6h0M535.8,625.7h0M535.6,631.3h0M539.6,540.4h0M539.6,546h0M539.6,551h0M539.6,555.7h0M539.6,560h0M539.6,563.9h0M539.6,567.6h0M539.6,571h0M539.6,574.2h0M539.6,577.3h0M539.6,580.2h0M539.6,583h0M539.6,585.8h0M539.6,588.6h0M539.6,591.4h0M539.6,594.3h0M539.6,597.4h0M539.6,600.6h0M539.6,604h0M539.6,607.7h0M539.6,611.6h0M539.6,615.9h0M539.6,620.6h0M539.6,625.6h0M539.6,631.2h0M543.6,540.3h0M543.4,545.9h0M543.2,551h0M543.1,555.6h0M543,559.9h0M542.9,563.9h0M542.8,567.6h0M542.7,571h0M542.6,574.2h0M542.6,577.2h0M542.6,580.2h0M542.5,583h0M542.5,585.8h0M542.5,588.6h0M542.6,591.4h0M542.6,594.4h0M542.6,597.4h0M542.7,600.6h0M542.8,604h0M542.9,607.7h0M543,611.7h0M543.1,616h0M543.2,620.6h0M543.4,625.7h0M543.6,631.3h0M547.6,540.1h0M547.2,545.7h0M546.9,550.8h0M546.7,555.4h0M546.4,559.8h0M546.2,563.7h0M546,567.4h0M545.8,570.9h0M545.7,574.1h0M545.6,577.2h0M545.5,580.1h0M545.5,583h0M545.5,585.8h0M545.5,588.6h0M545.5,591.5h0M545.6,594.4h0M545.7,597.5h0M545.8,600.7h0M546,604.2h0M546.2,607.9h0M546.4,611.8h0M546.7,616.2h0M546.9,620.8h0M547.2,625.9h0M547.6,631.5h0M551.7,539.7h0M551.2,545.3h0M550.7,550.4h0M550.3,555.1h0M549.9,559.5h0M549.6,563.5h0M549.3,567.2h0M549.1,570.7h0M548.9,574h0M548.7,577.1h0M548.6,580.1h0M548.6,582.9h0M548.5,585.8h0M548.6,588.7h0M548.6,591.5h0M548.7,594.5h0M548.9,597.6h0M549.1,600.9h0M549.3,604.4h0M549.6,608.1h0M549.9,612.1h0M550.3,616.5h0M550.7,621.2h0M551.2,626.3h0M551.7,631.9h0M555.9,539.1h0M555.2,544.7h0M554.6,549.9h0M554.1,554.7h0M553.6,559.1h0M553.1,563.2h0M552.8,566.9h0M552.4,570.5h0M552.2,573.8h0M552,576.9h0M551.8,580h0M551.8,582.9h0M551.7,585.8h0M551.8,588.7h0M551.8,591.6h0M552,594.7h0M552.2,597.8h0M552.4,601.1h0M552.8,604.7h0M553.1,608.4h0M553.6,612.5h0M554.1,616.9h0M554.6,621.7h0M555.2,626.9h0M555.9,632.5h0M560.3,538.4h0M559.5,544.1h0M558.7,549.3h0M558,554.1h0M557.4,558.6h0M556.9,562.7h0M556.4,566.6h0M556,570.1h0M555.7,573.5h0M555.4,576.7h0M555.2,579.8h0M555.1,582.8h0M555.1,585.8h0M555.1,588.8h0M555.2,591.8h0M555.4,594.9h0M555.7,598.1h0M556,601.5h0M556.4,605h0M556.9,608.9h0M557.4,613h0M558,617.5h0M558.7,622.3h0M559.5,627.5h0M560.3,633.2h0M564.9,537.4h0M563.9,543.2h0M563,548.5h0M562.2,553.5h0M561.4,558h0M560.8,562.2h0M560.2,566.1h0M559.7,569.8h0M559.3,573.2h0M559,576.5h0M558.8,579.7h0M558.7,582.8h0M558.7,585.8h0M558.7,588.8h0M558.8,591.9h0M559,595.1h0M559.3,598.4h0M559.7,601.8h0M560.2,605.5h0M560.8,609.4h0M561.4,613.6h0M562.2,618.1h0M563,623.1h0M563.9,628.4h0M564.9,634.2h0M569.8,536.4h0M568.6,542.2h0M567.6,547.6h0M566.6,552.6h0M565.7,557.3h0M565,561.6h0M564.3,565.6h0M563.8,569.3h0M563.3,572.9h0M562.9,576.2h0M562.7,579.5h0M562.5,582.7h0M562.5,585.8h0M562.5,588.9h0M562.7,592.1h0M562.9,595.4h0M563.3,598.7h0M563.8,602.3h0M564.3,606h0M565,610h0M565.7,614.3h0M566.6,619h0M567.6,624h0M568.6,629.4h0M569.8,635.2h0M573.6,541.1h0M572.4,546.6h0M571.3,551.7h0M570.3,556.4h0M569.5,560.8h0M568.7,564.9h0M568.1,568.8h0M567.6,572.4h0M567.1,575.9h0M566.9,579.3h0M566.7,582.6h0M566.6,585.8h0M566.7,589h0M566.9,592.3h0M567.1,595.7h0M567.6,599.2h0M568.1,602.8h0M568.7,606.7h0M569.5,610.8h0M570.3,615.2h0M571.3,619.9h0M572.4,625h0M573.6,630.5h0M579,539.8h0M577.6,545.4h0M576.4,550.7h0M575.3,555.5h0M574.3,560h0M573.5,564.2h0M572.7,568.2h0M572.2,572h0M571.7,575.6h0M571.4,579.1h0M571.2,582.4h0M571.1,585.8h0M571.2,589.2h0M571.4,592.5h0M571.7,596h0M572.2,599.6h0M572.7,603.4h0M573.5,607.4h0M574.3,611.6h0M575.3,616.1h0M576.4,620.9h0M577.6,626.2h0M579,631.8h0M584.8,538.3h0M583.2,544.1h0M581.9,549.5h0M580.6,554.4h0M579.5,559.1h0M578.6,563.4h0M577.8,567.6h0M577.1,571.5h0M576.6,575.2h0M576.3,578.8h0M576.1,582.3h0M576,585.8h0M576.1,589.3h0M576.3,592.8h0M576.6,596.4h0M577.1,600.1h0M577.8,604h0M578.6,608.2h0M579.5,612.5h0M580.6,617.2h0M581.9,622.1h0M583.2,627.5h0M584.8,633.3h0M590.9,536.8h0M589.3,542.7h0M587.8,548.2h0M586.4,553.3h0M585.2,558.1h0M584.2,562.6h0M583.3,566.8h0M582.6,570.9h0M582,574.7h0M581.6,578.5h0M581.4,582.2h0M581.3,585.8h0M581.4,589.4h0M581.6,593.1h0M582,596.9h0M582.6,600.7h0M583.3,604.8h0M584.2,609h0M585.2,613.5h0M586.4,618.3h0M587.8,623.4h0M589.3,628.9h0M590.9,634.8h0M591.3,557h0M590.2,561.6h0M589.3,566h0M588.5,570.2h0M587.9,574.3h0M587.4,578.2h0M587.2,582h0M587.1,585.8h0M587.2,589.6h0M587.4,593.4h0M587.9,597.3h0M588.5,601.4h0M589.3,605.6h0M590.2,610h0M591.3,614.6h0" fill="none" stroke="#2a2a2a" stroke-width="0.9" stroke-linecap="round"/>
<rect x="485.2" y="533.8" width="108.8" height="104" fill="none" stroke="url(#pring)" stroke-width="4.6"/>
<rect x="482.9" y="531.5" width="113.4" height="108.6" fill="none" stroke="#c4c4c4" stroke-width="1.2"/>
<text x="537.6" y="586.3" font-size="27" fill="#8c8c8c" text-anchor="middle" dominant-baseline="central" opacity="0.92">UH1</text>
<rect x="666" y="438.6" width="329.4" height="77.5" fill="none" stroke="#c4c4c4" stroke-width="1.25"/>
<rect x="673.7" y="475.1" width="314.1" height="2.4" fill="url(#pfine)" stroke="none" stroke-width="0"/>
<rect x="672.4" y="513" width="136.3" height="2.4" fill="url(#pfine)" stroke="none" stroke-width="0"/>
<rect x="817.8" y="513" width="168.7" height="2.4" fill="url(#pfine)" stroke="none" stroke-width="0"/>
<circle cx="669.1" cy="495.9" r="2.7" fill="none" stroke="#c4c4c4" stroke-width="0.8"/>
<circle cx="991.2" cy="495.9" r="3.7" fill="none" stroke="#c4c4c4" stroke-width="0.8"/>
<text x="829.5" y="478.3" font-size="26" fill="#808080" text-anchor="middle" dominant-baseline="central">JDIMM1</text>
<rect x="646.7" y="535.1" width="329.5" height="77.8" fill="none" stroke="#c4c4c4" stroke-width="1.25"/>
<rect x="654" y="535.3" width="136" height="2.4" fill="url(#pfine)" stroke="none" stroke-width="0"/>
<rect x="798.9" y="535.3" width="169" height="2.4" fill="url(#pfine)" stroke="none" stroke-width="0"/>
<rect x="652.7" y="573.4" width="136" height="2.4" fill="url(#pfine)" stroke="none" stroke-width="0"/>
<rect x="797.6" y="573.4" width="169.5" height="2.4" fill="url(#pfine)" stroke="none" stroke-width="0"/>
<circle cx="649.2" cy="555.6" r="2.7" fill="none" stroke="#c4c4c4" stroke-width="0.8"/>
<circle cx="971.7" cy="555.6" r="3.8" fill="none" stroke="#c4c4c4" stroke-width="0.8"/>
<text x="811" y="574.5" font-size="26" fill="#808080" text-anchor="middle" dominant-baseline="central">JDIMM2</text>
<rect x="994.7" y="528.2" width="15.3" height="52.7" fill="none" stroke="#c4c4c4" stroke-width="1.25"/>
<circle cx="998.3" cy="532.2" r="2.7" fill="none" stroke="#c4c4c4" stroke-width="0.8"/>
<circle cx="1006.5" cy="532.2" r="2.7" fill="none" stroke="#c4c4c4" stroke-width="0.8"/>
<circle cx="998.3" cy="541.2" r="2.7" fill="none" stroke="#c4c4c4" stroke-width="0.8"/>
<circle cx="1006.5" cy="541.2" r="2.7" fill="none" stroke="#c4c4c4" stroke-width="0.8"/>
<circle cx="998.3" cy="550.1" r="2.7" fill="none" stroke="#c4c4c4" stroke-width="0.8"/>
<circle cx="1006.5" cy="550.1" r="2.7" fill="none" stroke="#c4c4c4" stroke-width="0.8"/>
<circle cx="998.3" cy="559.1" r="2.7" fill="none" stroke="#c4c4c4" stroke-width="0.8"/>
<circle cx="1006.5" cy="559.1" r="2.7" fill="none" stroke="#c4c4c4" stroke-width="0.8"/>
<circle cx="998.3" cy="568" r="2.7" fill="none" stroke="#c4c4c4" stroke-width="0.8"/>
<circle cx="1006.5" cy="568" r="2.7" fill="none" stroke="#c4c4c4" stroke-width="0.8"/>
<circle cx="998.3" cy="577" r="2.7" fill="none" stroke="#c4c4c4" stroke-width="0.8"/>
<circle cx="1006.5" cy="577" r="2.7" fill="none" stroke="#c4c4c4" stroke-width="0.8"/>
<text x="1002.4" y="548.6" font-size="9" fill="#707070" text-anchor="middle" dominant-baseline="central" transform="rotate(-90 1002.4 548.6)">JPF1</text>
<rect x="62.6" y="536.1" width="14.8" height="94.1" fill="none" stroke="#c4c4c4" stroke-width="1.25"/>
<text x="70" y="583.2" font-size="14" fill="#808080" text-anchor="middle" dominant-baseline="central" transform="rotate(-90 70 583.2)">JIO1</text>
<rect x="74.2" y="541.2" width="2.4" height="84.8" fill="url(#pfinev)" stroke="none" stroke-width="0"/>
<rect x="95.8" y="581.8" width="28.9" height="20.3" fill="none" stroke="#c4c4c4" stroke-width="1.25"/>
<text x="110.2" y="591" font-size="5.6" fill="#808080" text-anchor="middle" dominant-baseline="central">JFAN2</text>
<rect x="89.7" y="651.8" width="38.5" height="21.3" fill="none" stroke="#c4c4c4" stroke-width="1.25"/>
<text x="108.9" y="663" font-size="8" fill="#808080" text-anchor="middle" dominant-baseline="central">JSPK1</text>
<circle cx="189.8" cy="560.7" r="9" fill="none" stroke="#008b8b" stroke-width="1.1"/>
<circle cx="69.1" cy="675.6" r="7.1" fill="none" stroke="#008b8b" stroke-width="1.1"/>
<circle cx="68.3" cy="649.3" r="1.4" fill="#008b8b" stroke="#008b8b" stroke-width="0"/>
<rect x="158.7" y="596.1" width="26.6" height="26.8" fill="none" stroke="#c4c4c4" stroke-width="1.25"/>
<text x="172" y="609.6" font-size="6.5" fill="#808080" text-anchor="middle" dominant-baseline="central">PUV1</text>
<rect x="160.1" y="597.5" width="23.8" height="24" fill="none" stroke="#8a8a8a" stroke-width="1.6" stroke-dasharray="0.7 0.5"/>
<rect x="278.3" y="575.7" width="24" height="30.3" fill="none" stroke="#c4c4c4" stroke-width="1.25"/>
<text x="288.3" y="589.9" font-size="6.5" fill="#808080" text-anchor="middle" dominant-baseline="central" transform="rotate(-90 288.3 589.9)">PUV5</text>
<rect x="279.9" y="602.6" width="20.8" height="2" fill="url(#pfine)" stroke="none" stroke-width="0"/>
<rect x="298.9" y="589.1" width="2" height="15.5" fill="url(#pfinev)" stroke="none" stroke-width="0"/>
<rect x="322.9" y="575.7" width="24" height="30.3" fill="none" stroke="#c4c4c4" stroke-width="1.25"/>
<text x="332.9" y="589.9" font-size="6.5" fill="#808080" text-anchor="middle" dominant-baseline="central" transform="rotate(-90 332.9 589.9)">PUV4</text>
<rect x="324.5" y="602.6" width="20.8" height="2" fill="url(#pfine)" stroke="none" stroke-width="0"/>
<rect x="343.5" y="589.1" width="2" height="15.5" fill="url(#pfinev)" stroke="none" stroke-width="0"/>
<rect x="367.9" y="575.7" width="24" height="30.3" fill="none" stroke="#c4c4c4" stroke-width="1.25"/>
<text x="377.9" y="589.9" font-size="6.5" fill="#808080" text-anchor="middle" dominant-baseline="central" transform="rotate(-90 377.9 589.9)">PUV3</text>
<rect x="369.5" y="602.6" width="20.8" height="2" fill="url(#pfine)" stroke="none" stroke-width="0"/>
<rect x="388.5" y="589.1" width="2" height="15.5" fill="url(#pfinev)" stroke="none" stroke-width="0"/>
<rect x="409.9" y="575.7" width="24" height="30.3" fill="none" stroke="#c4c4c4" stroke-width="1.25"/>
<text x="419.9" y="589.9" font-size="6.5" fill="#808080" text-anchor="middle" dominant-baseline="central" transform="rotate(-90 419.9 589.9)">PUV2</text>
<rect x="411.5" y="602.6" width="20.8" height="2" fill="url(#pfine)" stroke="none" stroke-width="0"/>
<rect x="430.5" y="589.1" width="2" height="15.5" fill="url(#pfinev)" stroke="none" stroke-width="0"/>
<circle cx="412.9" cy="667" r="7.1" fill="none" stroke="#008b8b" stroke-width="1.1"/>
<rect x="265.7" y="636.8" width="22.6" height="22.1" fill="none" stroke="#c4c4c4" stroke-width="1.25"/>
<rect x="267.1" y="638.2" width="19.8" height="19.3" fill="none" stroke="#8a8a8a" stroke-width="1.6" stroke-dasharray="0.7 0.5"/>
<rect x="138.7" y="680.9" width="100.9" height="38.2" fill="none" stroke="#c4c4c4" stroke-width="1.25"/>
<text x="188.6" y="700.2" font-size="16.7" fill="#808080" text-anchor="middle" dominant-baseline="central">JWLAN1</text>
<rect x="146.4" y="681.6" width="51.7" height="2.4" fill="url(#pfine)" stroke="none" stroke-width="0"/>
<rect x="207" y="681.6" width="26.1" height="2.4" fill="url(#pfine)" stroke="none" stroke-width="0"/>
<rect x="145.2" y="716.1" width="51.8" height="2.4" fill="url(#pfine)" stroke="none" stroke-width="0"/>
<rect x="206" y="716.1" width="28.1" height="2.4" fill="url(#pfine)" stroke="none" stroke-width="0"/>
<circle cx="142.8" cy="692.8" r="3.9" fill="none" stroke="#c4c4c4" stroke-width="0.8"/>
<circle cx="236.3" cy="692.8" r="2.6" fill="none" stroke="#c4c4c4" stroke-width="0.8"/>
<circle cx="78.1" cy="743.2" r="1.4" fill="#008b8b" stroke="#008b8b" stroke-width="0"/>
<rect x="250.6" y="688.4" width="48.8" height="18.5" fill="none" stroke="#c4c4c4" stroke-width="1.25"/>
<text x="275" y="698.6" font-size="9.8" fill="#808080" text-anchor="middle" dominant-baseline="central">JHDD1</text>
<rect x="261.1" y="688.8" width="27.7" height="2.4" fill="url(#pfine)" stroke="none" stroke-width="0"/>
<rect x="313.8" y="682.4" width="94.5" height="25.5" fill="none" stroke="#c4c4c4" stroke-width="1.25"/>
<text x="360.3" y="695.2" font-size="18.7" fill="#808080" text-anchor="middle" dominant-baseline="central">PJPB1</text>
<rect x="417.6" y="682.7" width="37.6" height="17.4" fill="none" stroke="#c4c4c4" stroke-width="1.25"/>
<text x="436.4" y="691.4" font-size="8" fill="#808080" text-anchor="middle" dominant-baseline="central">JKBL1</text>
<rect x="469.1" y="678.9" width="67.1" height="18.2" fill="none" stroke="#c4c4c4" stroke-width="1.25"/>
<text x="502.7" y="688.4" font-size="13.3" fill="#808080" text-anchor="middle" dominant-baseline="central">JLB1</text>
<rect x="479.4" y="679.2" width="46.9" height="2.4" fill="url(#pfine)" stroke="none" stroke-width="0"/>
<rect x="547.8" y="678.9" width="166" height="18.2" fill="none" stroke="#c4c4c4" stroke-width="1.25"/>
<text x="630.3" y="688.4" font-size="13.6" fill="#808080" text-anchor="middle" dominant-baseline="central">JKB1</text>
<rect x="1040.7" y="589.6" width="38.5" height="100.8" fill="none" stroke="#c4c4c4" stroke-width="1.25"/>
<text x="1060.2" y="641" font-size="21" fill="#808080" text-anchor="middle" dominant-baseline="central" transform="rotate(-90 1060.2 641)">JSSD1</text>
<rect x="1041.6" y="596.2" width="2.3" height="10.5" fill="url(#pfinev)" stroke="none" stroke-width="0"/>
<rect x="1041.6" y="616.2" width="2.3" height="67.7" fill="url(#pfinev)" stroke="none" stroke-width="0"/>
<rect x="1076.3" y="596.2" width="2.3" height="10.5" fill="url(#pfinev)" stroke="none" stroke-width="0"/>
<rect x="1076.3" y="616.2" width="2.3" height="67.7" fill="url(#pfinev)" stroke="none" stroke-width="0"/>
<circle cx="1066.8" cy="593.7" r="3.3" fill="none" stroke="#c4c4c4" stroke-width="0.8"/>
<circle cx="1066.8" cy="687.1" r="2.5" fill="none" stroke="#c4c4c4" stroke-width="0.8"/>
<rect x="971.7" y="697.9" width="63.6" height="17.3" fill="none" stroke="#c4c4c4" stroke-width="1.25"/>
<text x="1003.2" y="707" font-size="12.3" fill="#808080" text-anchor="middle" dominant-baseline="central">JTP1</text>
<circle cx="1433.6" cy="640.4" r="9.1" fill="none" stroke="#008b8b" stroke-width="1.1"/>
<circle cx="1473.1" cy="650.8" r="8.8" fill="none" stroke="#008b8b" stroke-width="1.1"/>
<circle cx="1362.4" cy="640.4" r="1.4" fill="#008b8b" stroke="#008b8b" stroke-width="0"/>
<circle cx="1416.4" cy="651.4" r="1.4" fill="#008b8b" stroke="#008b8b" stroke-width="0"/>
<circle cx="1387.5" cy="672.3" r="1.4" fill="#008b8b" stroke="#008b8b" stroke-width="0"/>
<circle cx="1394.9" cy="671.4" r="1.4" fill="#008b8b" stroke="#008b8b" stroke-width="0"/>
<circle cx="1371.8" cy="676.4" r="1.4" fill="#008b8b" stroke="#008b8b" stroke-width="0"/>
<circle cx="1398.4" cy="688.3" r="1.4" fill="#008b8b" stroke="#008b8b" stroke-width="0"/>
<rect x="1379.5" y="701.3" width="11.5" height="15" fill="none" stroke="#c4c4c4" stroke-width="1.25"/>
<text x="1385.3" y="708.8" font-size="4.6" fill="#808080" text-anchor="middle" dominant-baseline="central" transform="rotate(-90 1385.3 708.8)">PU14</text>
<rect x="1379.6" y="528.5" width="60.1" height="44.6" fill="none" stroke="#c4c4c4" stroke-width="1.25"/>
<text x="1409.3" y="551.2" font-size="15" fill="#808080" text-anchor="middle" dominant-baseline="central">TSL1</text>
<circle cx="1380.5" cy="550.8" r="0.9" fill="none" stroke="#c4c4c4" stroke-width="0.6"/>
<rect x="1430.7" y="475.6" width="20.4" height="28.5" fill="none" stroke="#c4c4c4" stroke-width="1.25"/>
<text x="1439.4" y="489.9" font-size="5.4" fill="#808080" text-anchor="middle" dominant-baseline="central" transform="rotate(-90 1439.4 489.9)">JFAN1</text>
<rect x="1332.6" y="551.9" width="11.5" height="16.1" fill="none" stroke="#c4c4c4" stroke-width="1.25"/>
<text x="1338.3" y="559.9" font-size="4.6" fill="#808080" text-anchor="middle" dominant-baseline="central" transform="rotate(-90 1338.3 559.9)">UL2</text>
<rect x="1459.5" y="213.5" width="71.5" height="85" fill="none" stroke="#c4c4c4" stroke-width="1.25"/>
<text x="1494.9" y="256.5" font-size="21" fill="#808080" text-anchor="middle" dominant-baseline="central" transform="rotate(-90 1494.9 256.5)">JRJ45</text>
<circle cx="1462.6" cy="243.8" r="2.8" fill="none" stroke="#c4c4c4" stroke-width="0.8"/>
<circle cx="1462.6" cy="253.7" r="2.8" fill="none" stroke="#c4c4c4" stroke-width="0.8"/>
<circle cx="1462.6" cy="263.6" r="2.8" fill="none" stroke="#c4c4c4" stroke-width="0.8"/>
<circle cx="1462.6" cy="272.7" r="2.8" fill="none" stroke="#c4c4c4" stroke-width="0.8"/>
<circle cx="1467.8" cy="239.6" r="2.8" fill="none" stroke="#c4c4c4" stroke-width="0.8"/>
<circle cx="1467.8" cy="248.7" r="2.8" fill="none" stroke="#c4c4c4" stroke-width="0.8"/>
<circle cx="1467.8" cy="257.8" r="2.8" fill="none" stroke="#c4c4c4" stroke-width="0.8"/>
<circle cx="1467.8" cy="266.9" r="2.8" fill="none" stroke="#c4c4c4" stroke-width="0.8"/>
<circle cx="1444.6" cy="254.2" r="1.4" fill="#008b8b" stroke="#008b8b" stroke-width="0"/>
<circle cx="1414.2" cy="285.4" r="6.6" fill="none" stroke="#008b8b" stroke-width="1.1"/>
<circle cx="1407.6" cy="311" r="6.3" fill="none" stroke="#008b8b" stroke-width="1.1"/>
<rect x="1421.8" y="314" width="51.4" height="15.6" fill="none" stroke="#c4c4c4" stroke-width="1.25"/>
<text x="1447.2" y="321.2" font-size="10.1" fill="#808080" text-anchor="middle" dominant-baseline="central">JPWR1</text>
<rect x="1481.6" y="318.1" width="48.5" height="83.7" fill="none" stroke="#c4c4c4" stroke-width="1.25"/>
<text x="1505.6" y="361" font-size="15.5" fill="#808080" text-anchor="middle" dominant-baseline="central" transform="rotate(-90 1505.6 361)">JHDMI1</text>
<circle cx="1483.7" cy="340.9" r="1.9" fill="none" stroke="#c4c4c4" stroke-width="0.8"/>
<circle cx="1490.9" cy="338.9" r="2" fill="none" stroke="#c4c4c4" stroke-width="0.8"/>
<circle cx="1483.7" cy="345.7" r="1.9" fill="none" stroke="#c4c4c4" stroke-width="0.8"/>
<circle cx="1490.9" cy="344.2" r="2" fill="none" stroke="#c4c4c4" stroke-width="0.8"/>
<circle cx="1483.7" cy="350.5" r="1.9" fill="none" stroke="#c4c4c4" stroke-width="0.8"/>
<circle cx="1490.9" cy="349.5" r="2" fill="none" stroke="#c4c4c4" stroke-width="0.8"/>
<circle cx="1483.7" cy="355.3" r="1.9" fill="none" stroke="#c4c4c4" stroke-width="0.8"/>
<circle cx="1490.9" cy="354.9" r="2" fill="none" stroke="#c4c4c4" stroke-width="0.8"/>
<circle cx="1483.7" cy="360.1" r="1.9" fill="none" stroke="#c4c4c4" stroke-width="0.8"/>
<circle cx="1490.9" cy="360.2" r="2" fill="none" stroke="#c4c4c4" stroke-width="0.8"/>
<circle cx="1483.7" cy="364.9" r="1.9" fill="none" stroke="#c4c4c4" stroke-width="0.8"/>
<circle cx="1490.9" cy="365.5" r="2" fill="none" stroke="#c4c4c4" stroke-width="0.8"/>
<circle cx="1483.7" cy="369.7" r="1.9" fill="none" stroke="#c4c4c4" stroke-width="0.8"/>
<circle cx="1490.9" cy="370.9" r="2" fill="none" stroke="#c4c4c4" stroke-width="0.8"/>
<circle cx="1483.7" cy="374.5" r="1.9" fill="none" stroke="#c4c4c4" stroke-width="0.8"/>
<circle cx="1490.9" cy="376.2" r="2" fill="none" stroke="#c4c4c4" stroke-width="0.8"/>
<circle cx="1483.7" cy="379.3" r="1.9" fill="none" stroke="#c4c4c4" stroke-width="0.8"/>
<circle cx="1490.9" cy="381.6" r="2" fill="none" stroke="#c4c4c4" stroke-width="0.8"/>
<rect x="1464.5" y="414.3" width="52.5" height="74.5" fill="none" stroke="#c4c4c4" stroke-width="1.25"/>
<text x="1490.8" y="452" font-size="16" fill="#808080" text-anchor="middle" dominant-baseline="central" transform="rotate(-90 1490.8 452)">JUSB2</text>
<circle cx="1467.7" cy="434.9" r="2.7" fill="none" stroke="#c4c4c4" stroke-width="0.8"/>
<circle cx="1467.7" cy="446.1" r="2.7" fill="none" stroke="#c4c4c4" stroke-width="0.8"/>
<circle cx="1467.7" cy="456.2" r="2.7" fill="none" stroke="#c4c4c4" stroke-width="0.8"/>
<circle cx="1467.7" cy="467.7" r="2.7" fill="none" stroke="#c4c4c4" stroke-width="0.8"/>
<circle cx="1474.7" cy="432.5" r="2.9" fill="none" stroke="#c4c4c4" stroke-width="0.8"/>
<circle cx="1474.7" cy="441.9" r="2.9" fill="none" stroke="#c4c4c4" stroke-width="0.8"/>
<circle cx="1474.7" cy="451.2" r="2.9" fill="none" stroke="#c4c4c4" stroke-width="0.8"/>
<circle cx="1474.7" cy="460.4" r="2.9" fill="none" stroke="#c4c4c4" stroke-width="0.8"/>
<circle cx="1474.7" cy="470" r="2.9" fill="none" stroke="#c4c4c4" stroke-width="0.8"/>
<rect x="1464.5" y="496.9" width="52.5" height="74.3" fill="none" stroke="#c4c4c4" stroke-width="1.25"/>
<text x="1490.8" y="534.5" font-size="16" fill="#808080" text-anchor="middle" dominant-baseline="central" transform="rotate(-90 1490.8 534.5)">JUSB3</text>
<circle cx="1467.7" cy="517.6" r="2.7" fill="none" stroke="#c4c4c4" stroke-width="0.8"/>
<circle cx="1467.7" cy="529.1" r="2.7" fill="none" stroke="#c4c4c4" stroke-width="0.8"/>
<circle cx="1467.7" cy="538.6" r="2.7" fill="none" stroke="#c4c4c4" stroke-width="0.8"/>
<circle cx="1467.7" cy="550.3" r="2.7" fill="none" stroke="#c4c4c4" stroke-width="0.8"/>
<circle cx="1474.7" cy="515.1" r="2.9" fill="none" stroke="#c4c4c4" stroke-width="0.8"/>
<circle cx="1474.7" cy="524.6" r="2.9" fill="none" stroke="#c4c4c4" stroke-width="0.8"/>
<circle cx="1474.7" cy="533.9" r="2.9" fill="none" stroke="#c4c4c4" stroke-width="0.8"/>
<circle cx="1474.7" cy="543.3" r="2.9" fill="none" stroke="#c4c4c4" stroke-width="0.8"/>
<circle cx="1474.7" cy="552.6" r="2.9" fill="none" stroke="#c4c4c4" stroke-width="0.8"/>
<rect x="1472.1" y="579.7" width="30.2" height="53.1" fill="none" stroke="#c4c4c4" stroke-width="1.25"/>
<circle cx="1484.8" cy="586.3" r="3.1" fill="none" stroke="#c4c4c4" stroke-width="0.8"/>
<circle cx="1484.8" cy="626.1" r="3.1" fill="none" stroke="#c4c4c4" stroke-width="0.8"/>
<circle cx="1487.4" cy="593.3" r="2" fill="none" stroke="#c4c4c4" stroke-width="0.8"/>
<circle cx="1481.9" cy="596.8" r="1.8" fill="none" stroke="#c4c4c4" stroke-width="0.8"/>
<circle cx="1488" cy="599.4" r="1.8" fill="none" stroke="#c4c4c4" stroke-width="0.8"/>
<circle cx="1481.4" cy="601.9" r="1.6" fill="none" stroke="#c4c4c4" stroke-width="0.8"/>
<circle cx="1488.3" cy="604.7" r="2.2" fill="none" stroke="#c4c4c4" stroke-width="0.8"/>
<circle cx="1481.4" cy="610.8" r="1.8" fill="none" stroke="#c4c4c4" stroke-width="0.8"/>
<circle cx="1487.4" cy="613.4" r="1.8" fill="none" stroke="#c4c4c4" stroke-width="0.8"/>
<circle cx="1481.7" cy="615.9" r="1.6" fill="none" stroke="#c4c4c4" stroke-width="0.8"/>
<circle cx="1487.8" cy="619.1" r="2" fill="none" stroke="#c4c4c4" stroke-width="0.8"/>
<text x="1488.3" y="606.4" font-size="7.5" fill="#9a9a9a" text-anchor="middle" dominant-baseline="central" transform="rotate(-90 1488.3 606.4)">JUSB1</text>
<rect x="1472.8" y="592.4" width="1.6" height="27.3" fill="url(#pfinev)" stroke="none" stroke-width="0"/>
<rect x="1496.6" y="640" width="32.5" height="58.9" fill="none" stroke="#c4c4c4" stroke-width="1.25"/>
<text x="1512.1" y="670.1" font-size="8.6" fill="#9a9a9a" text-anchor="middle" dominant-baseline="central" transform="rotate(-90 1512.1 670.1)">JUSBC1</text>
<rect x="1500.9" y="652.4" width="1.6" height="33.9" fill="url(#pfinev)" stroke="none" stroke-width="0"/>
<circle cx="1506.3" cy="654.5" r="1.2" fill="none" stroke="#c4c4c4" stroke-width="0.8"/>
<circle cx="1506.3" cy="663.1" r="1.2" fill="none" stroke="#c4c4c4" stroke-width="0.8"/>
<circle cx="1506.3" cy="666.8" r="1.2" fill="none" stroke="#c4c4c4" stroke-width="0.8"/>
<circle cx="1506.3" cy="670.6" r="1.2" fill="none" stroke="#c4c4c4" stroke-width="0.8"/>
<circle cx="1506.3" cy="674.7" r="1.2" fill="none" stroke="#c4c4c4" stroke-width="0.8"/>
<circle cx="1506.3" cy="684.3" r="1.2" fill="none" stroke="#c4c4c4" stroke-width="0.8"/>
<circle cx="1514.7" cy="658.2" r="2.2" fill="none" stroke="#c4c4c4" stroke-width="0.8"/>
<circle cx="1514.7" cy="666.4" r="2.2" fill="none" stroke="#c4c4c4" stroke-width="0.8"/>
<circle cx="1514.7" cy="674.7" r="2.2" fill="none" stroke="#c4c4c4" stroke-width="0.8"/>
<circle cx="1514.7" cy="682.6" r="2.2" fill="none" stroke="#c4c4c4" stroke-width="0.8"/>
<circle cx="1501" cy="685.4" r="1.4" fill="none" stroke="#c4c4c4" stroke-width="0.8"/>
<rect x="1485.9" y="704.2" width="41.5" height="44.2" fill="none" stroke="#c4c4c4" stroke-width="1.25"/>
<text x="1506.6" y="727" font-size="11.5" fill="#808080" text-anchor="middle" dominant-baseline="central">JHP1</text>
<path d="M373.7,102.3h8.9v9.9h-8.9zM599,45.7h12v17.2h-12zM630.2,89.5h22.4v2.9h-22.4zM686.5,90.6h2.6v19.2h-2.6zM678.7,123.5h15.4v2.6h-15.4zM636.6,138.6h31.4v2.6h-31.4zM637.4,174.4h30.7v2.6h-30.7zM664.4,199.6h14.6v2.9h-14.6zM842.1,41.8h15.4v2.9h-15.4zM932.9,88.5h29.1v2.9h-29.1zM700.9,107.2h20.3v2.6h-20.3zM761.6,131.6h2.6v22.9h-2.6zM793,123h2.6v30.9h-2.6zM829.4,123h2.6v30.9h-2.6zM865.7,123h2.6v30.9h-2.6zM902.1,123h2.6v30.9h-2.6zM801.6,65.1h9.9v12.8h-9.9zM832,65.1h9.6v12.8h-9.6zM867.8,65.1h9.1v12.8h-9.1zM892.4,67.2h9.9v12.5h-9.9zM707.4,86.7h12.8v8.9h-12.8zM754.9,97.6h12v9.6h-12zM751.5,110.8h17.2v11.2h-17.2zM718.5,167.7h9.9v8.3h-9.9zM656.1,343.1h8.3v7.8h-8.3zM358.6,456.9h2.6v32.5h-2.6zM381.7,456.9h2.6v31.2h-2.6zM403,488.6h33.3v2.6h-33.3zM298.4,511.4h2.9v52.7h-2.9zM338.9,511.4h2.6v52.7h-2.6zM379.9,511.4h2.6v52.7h-2.6zM421.2,511.4h2.6v52.7h-2.6zM613.7,393.6h2.2v10.4h-2.2zM566,388.8h8.2v11h-8.2zM572.3,405.6h8.9v9.9h-8.9zM584.1,392.3h8v10.8h-8zM600.9,398.4h8.5v10.8h-8.5zM619.8,392.3h8.2v10.8h-8.2zM629.9,402.8h11.4v11.8h-11.4zM612.3,408.3h8.5v11.4h-8.5zM587.3,409.4h8.5v9.3h-8.5zM596.1,425.6h8.9v10.8h-8.9zM617.8,424.7h14.4v11.8h-14.4zM594.6,444.5h8.9v11.6h-8.9zM623.2,445.7h8.5v11.4h-8.5zM635,445.7h8.2v11.2h-8.2zM446.8,560.5h8.5v7h-8.5zM440.5,625.4h12v8.5h-12zM615.9,590.7h5.7v5.5h-5.7zM472.5,657.2h12.3v11h-12.3zM620.7,620.2h2.4v14.3h-2.4zM434.8,651.5h29.5v2.4h-29.5zM1009.1,599.8h2.8v30.5h-2.8zM982.6,673.3h31.5v2.8h-31.5zM996.4,642.5h11.7v8.7h-11.7zM92.8,625.6h31.6v2.8h-31.6zM261.2,527.4h3.2v28.9h-3.2zM164.5,566.5h5.7v5.7h-5.7zM216.8,569.7h12.3v11.6h-12.3zM146.8,647.9h12.3v11.6h-12.3zM164.9,652.9h11.4v8.5h-11.4zM241.2,642.8h10.1v9.1h-10.1zM300.9,629.4h2.4v12.3h-2.4zM330.5,657.1h31v3.2h-31zM373.6,657.1h2.4v17.5h-2.4zM308.5,641.8h12v17.7h-12zM373.4,633.8h12v13.1h-12zM153.3,742.3h31.1v3.1h-31.1zM205,743.3h31.6v3.3h-31.6zM1039.6,695.5h9.9v8h-9.9zM1144.9,586.6h5.3v5.9h-5.3zM1148.9,591.6h5.5v5.5h-5.5zM1259.1,690.8h5.1v5.5h-5.1zM1263.4,694.5h5.9v6.1h-5.9zM1274.2,705.7h7.6v7.6h-7.6zM1396.8,621.9h9.4v8.1h-9.4zM1467.8,673.1h4v4h-4zM1471.1,676.4h4.3v4.5h-4.3zM1367,526.9h2.8v23.2h-2.8zM1435.7,422.1h11.7v14.8h-11.7zM1480.7,306.2h14.4v11.4h-14.4zM1453.7,336.8h8.8v11.5h-8.8zM1432.7,345.8h12.4v12.1h-12.4zM1454.3,356.6h9.1v11.5h-9.1zM1431.2,383.3h13.9v12h-13.9z" fill="none" stroke="#c4c4c4" stroke-width="1" shape-rendering="crispEdges"/>
<path d="M631.5,91h19.8M687.8,91.9v16.6M680,124.9h12.8M637.9,139.9h28.8M638.7,175.7h28.1M665.7,201.1h12M843.4,43.2h12.8M934.2,90h26.5M702.2,108.5h17.7M762.9,132.9v20.3M794.3,124.3v28.3M830.7,124.3v28.3M867,124.3v28.3M903.4,124.3v28.3M360,458.2v29.9M383.1,458.2v28.6M404.3,489.9h30.7M299.9,512.7v50.1M340.2,512.7v50.1M381.2,512.7v50.1M422.5,512.7v50.1M614.8,394.9v7.8M621.9,621.5v11.7M436.1,652.7h26.9M1010.5,601.1v27.9M983.9,674.7h28.9M94.1,627h29M262.8,528.7v26.3M302.1,630.7v9.7M331.8,658.7h28.4M374.8,658.4v14.9M154.6,743.9h28.5M206.3,744.9h29M1368.4,528.2v20.6" fill="none" stroke="#8a8a8a" stroke-width="0.9"/>
<path d="M374.9,103.5h0M381.4,103.5h0M374.9,111h0M381.4,111h0M600.2,46.9h0M609.8,46.9h0M600.2,61.6h0M609.8,61.6h0M637.3,47.2h0M678.9,47.2h0M720.5,47.2h0M622.2,56.2h0M735.9,56.2h0M802.8,66.3h0M810.3,66.3h0M802.8,76.7h0M810.3,76.7h0M833.2,66.3h0M840.4,66.3h0M833.2,76.7h0M840.4,76.7h0M869,66.3h0M875.7,66.3h0M869,76.7h0M875.7,76.7h0M893.6,68.4h0M901.1,68.4h0M893.6,78.5h0M901.1,78.5h0M708.6,87.9h0M718.9,87.9h0M708.6,94.4h0M718.9,94.4h0M756.1,98.8h0M765.7,98.8h0M756.1,106h0M765.7,106h0M752.7,112h0M767.5,112h0M752.7,120.8h0M767.5,120.8h0M719.7,168.9h0M727.2,168.9h0M719.7,174.8h0M727.2,174.8h0M657.3,344.3h0M663.3,344.3h0M657.3,349.8h0M663.3,349.8h0M567.2,390h0M572.9,390h0M567.2,398.7h0M572.9,398.7h0M573.5,406.8h0M580,406.8h0M573.5,414.3h0M580,414.3h0M585.3,393.5h0M590.9,393.5h0M585.3,401.9h0M590.9,401.9h0M602.1,399.6h0M608.2,399.6h0M602.1,408h0M608.2,408h0M621,393.5h0M626.7,393.5h0M621,401.9h0M626.7,401.9h0M631.1,404h0M640,404h0M631.1,413.3h0M640,413.3h0M613.5,409.5h0M619.6,409.5h0M613.5,418.5h0M619.6,418.5h0M588.5,410.6h0M594.7,410.6h0M588.5,417.5h0M594.7,417.5h0M597.3,426.8h0M603.8,426.8h0M597.3,435.3h0M603.8,435.3h0M619,425.9h0M631.1,425.9h0M619,435.3h0M631.1,435.3h0M595.8,445.7h0M602.3,445.7h0M595.8,454.9h0M602.3,454.9h0M624.4,446.9h0M630.5,446.9h0M624.4,455.9h0M630.5,455.9h0M636.2,446.9h0M642,446.9h0M636.2,455.7h0M642,455.7h0M448,561.7h0M454.1,561.7h0M448,566.3h0M454.1,566.3h0M441.7,626.6h0M451.3,626.6h0M441.7,632.7h0M451.3,632.7h0M617.1,591.9h0M620.4,591.9h0M617.1,594.9h0M620.4,594.9h0M473.7,658.4h0M483.7,658.4h0M473.7,667h0M483.7,667h0M671.7,439.6h0M988.3,439.6h0M652.2,611.5h0M968.7,611.5h0M997.6,643.7h0M1006.9,643.7h0M997.6,650h0M1006.9,650h0M103.4,600.7h0M108.2,600.7h0M112.9,600.7h0M117.7,600.7h0M97.1,653.5h0M101.9,653.5h0M106.6,653.5h0M111.4,653.5h0M116.2,653.5h0M120.9,653.5h0M165.7,567.7h0M169,567.7h0M165.7,571h0M169,571h0M218,570.9h0M227.9,570.9h0M218,580.1h0M227.9,580.1h0M148,649.1h0M157.9,649.1h0M148,658.3h0M157.9,658.3h0M166.1,654.1h0M175.1,654.1h0M166.1,660.2h0M175.1,660.2h0M242.4,644h0M250,644h0M242.4,650.7h0M250,650.7h0M282.2,596.6h0M293.7,596.6h0M296.7,589.6h0M289.2,577.3h0M326.8,596.6h0M338.3,596.6h0M341.3,589.6h0M333.8,577.3h0M371.8,596.6h0M383.3,596.6h0M386.3,589.6h0M378.8,577.3h0M413.8,596.6h0M425.3,596.6h0M428.3,589.6h0M420.8,577.3h0M309.7,643h0M319.3,643h0M309.7,658.3h0M319.3,658.3h0M374.6,635h0M384.1,635h0M374.6,645.7h0M384.1,645.7h0M314.5,647.4h0M314.5,652.7h0M277.1,647.8h0M141.4,714h0M237.7,714h0M328.5,683.6h0M334.4,683.6h0M340.3,683.6h0M346.2,683.6h0M352.2,683.6h0M358.1,683.6h0M364,683.6h0M369.9,683.6h0M375.8,683.6h0M381.7,683.6h0M387.6,683.6h0M393.5,683.6h0M429.2,683.6h0M434.2,683.6h0M438.9,683.6h0M443.7,683.6h0M557.2,680.4h0M561.2,680.4h0M565.2,680.4h0M569.1,680.4h0M573.1,680.4h0M577.1,680.4h0M581.1,680.4h0M585.1,680.4h0M589,680.4h0M593,680.4h0M597,680.4h0M601,680.4h0M605,680.4h0M608.9,680.4h0M612.9,680.4h0M616.9,680.4h0M620.9,680.4h0M624.8,680.4h0M628.8,680.4h0M632.8,680.4h0M636.8,680.4h0M640.8,680.4h0M644.7,680.4h0M648.7,680.4h0M652.7,680.4h0M656.7,680.4h0M660.7,680.4h0M664.6,680.4h0M668.6,680.4h0M672.6,680.4h0M676.6,680.4h0M680.6,680.4h0M684.5,680.4h0M688.5,680.4h0M692.5,680.4h0M696.5,680.4h0M700.5,680.4h0M704.4,680.4h0M1045.4,592.4h0M1045.4,688.7h0M987.6,699.4h0M992.3,699.4h0M996.9,699.4h0M1001.5,699.4h0M1006.2,699.4h0M1010.8,699.4h0M1015.4,699.4h0M1020.1,699.4h0M1040.8,696.7h0M1048.3,696.7h0M1040.8,702.2h0M1048.3,702.2h0M1146.1,587.8h0M1149,587.8h0M1146.1,591.3h0M1149,591.3h0M1150.1,592.8h0M1153.2,592.8h0M1150.1,595.8h0M1153.2,595.8h0M1260.3,692h0M1263,692h0M1260.3,695.1h0M1263,695.1h0M1264.6,695.7h0M1268.1,695.7h0M1264.6,699.4h0M1268.1,699.4h0M1275.4,706.9h0M1280.7,706.9h0M1275.4,712.2h0M1280.7,712.2h0M1398,623.1h0M1405,623.1h0M1398,628.8h0M1405,628.8h0M1469,674.3h0M1470.5,674.3h0M1469,675.8h0M1470.5,675.8h0M1472.3,677.6h0M1474.2,677.6h0M1472.3,679.6h0M1474.2,679.6h0M1386.6,529.9h0M1386.6,571.9h0M1391.8,529.9h0M1391.8,571.9h0M1396.9,529.9h0M1396.9,571.9h0M1402,529.9h0M1402,571.9h0M1407.2,529.9h0M1407.2,571.9h0M1412.3,529.9h0M1412.3,571.9h0M1417.4,529.9h0M1417.4,571.9h0M1422.6,529.9h0M1422.6,571.9h0M1427.7,529.9h0M1427.7,571.9h0M1432.8,529.9h0M1432.8,571.9h0M1438,529.9h0M1438,571.9h0M1449.4,481.9h0M1449.4,487.7h0M1449.4,492.8h0M1449.4,498.4h0M1436.9,423.3h0M1446.2,423.3h0M1436.9,435.7h0M1446.2,435.7h0M1487,214.5h0M1529.4,214.5h0M1487,297.8h0M1529.4,297.8h0M1481.9,307.4h0M1493.9,307.4h0M1481.9,316.4h0M1493.9,316.4h0M1435.2,328.5h0M1439.8,328.5h0M1444.7,328.5h0M1449.4,328.5h0M1454.3,328.5h0M1459.2,328.5h0M1454.9,338h0M1461.3,338h0M1454.9,347.1h0M1461.3,347.1h0M1433.9,347h0M1443.9,347h0M1433.9,356.7h0M1443.9,356.7h0M1455.5,357.8h0M1462.2,357.8h0M1455.5,366.9h0M1462.2,366.9h0M1432.4,384.5h0M1443.9,384.5h0M1432.4,394h0M1443.9,394h0M1489.8,326.2h0M1489.8,394.2h0M1467.3,415.2h0M1516,415.2h0M1467.3,487.8h0M1516,487.8h0M1467.3,497.7h0M1516,497.7h0M1477.8,580.3h0M1500.7,580.3h0M1477.8,632h0M1500.7,632h0M1498,648.3h0M1498,654.5h0M1498,664.8h0M1498,674.2h0M1498,684.6h0M1498,690.4h0M1509.8,641.3h0M1527.9,641.3h0M1509.8,697.8h0M1527.9,697.8h0M1487.3,705.6h0M1514.2,705.6h0M1525.3,705.6h0M1489.8,747.4h0M1513.4,747.4h0M1525.3,747.4h0" fill="none" stroke="#9a9a9a" stroke-width="1.9" stroke-linecap="round"/>
<path d="M374.5,96.6h7.6v2.9h-7.6zM382.5,146.7h7.8v2.6h-7.8zM416.5,197h2.6v7.3h-2.6zM340.7,217h7.3v2.6h-7.3zM349,217h7.3v2.6h-7.3zM357.3,217h7v2.6h-7zM368.5,217.8h7.8v2.9h-7.8zM473.6,84.6h6.8v3.2h-6.8zM473.6,88.8h6.8v3.2h-6.8zM473.6,92.9h6.8v3.2h-6.8zM473.6,97.1h6.8v3.2h-6.8zM473.6,101.2h6.8v3.2h-6.8zM470.5,106.2h9.4v3.2h-9.4zM477.5,116.8h2.9v7.3h-2.9zM587.1,39.2h2.6v12h-2.6zM598.5,39.4h6.8v2.6h-6.8zM606.3,39.4h6.8v2.6h-6.8zM584.7,53.5h2.6v8.9h-2.6zM590.4,53.5h2.6v8.9h-2.6zM562.1,66.7h2.6v5.5h-2.6zM568.6,65.4h6.3v2.4h-6.3zM575.9,65.4h6.5v2.4h-6.5zM568.6,69h6.3v2.4h-6.3zM575.9,69h6.5v2.4h-6.5zM558.8,74.5h6.8v2.6h-6.8zM593.6,67.2h2.6v7.6h-2.6zM599.8,66.7h2.6v9.1h-2.6zM607.6,65.9h2.6v7h-2.6zM548.7,79.4h2.6v8.9h-2.6zM548.7,90.6h2.6v8.9h-2.6zM552.3,101.7h2.6v7.3h-2.6zM567.9,155.2h7.3v2.9h-7.3zM658.7,91.9h2.6v8.9h-2.6zM666.5,91.9h2.6v8.9h-2.6zM674.5,91.9h2.6v8.9h-2.6zM623.4,105.6h2.6v7.3h-2.6zM665.7,106.2h2.6v6h-2.6zM670.4,110.6h8.6v2.6h-8.6zM682.6,197h2.6v6.5h-2.6zM656.1,211.8h7.3v2.6h-7.3zM860.5,39.4h7v2.6h-7zM743.7,73.7h7.6v2.6h-7.6zM796.9,63.8h2.6v6.8h-2.6zM814.6,63.8h2.6v7.6h-2.6zM814.6,73.2h2.6v7.8h-2.6zM786,72.9h2.6v8.3h-2.6zM792.3,72.9h2.6v8.3h-2.6zM828.1,63.8h2.6v6.3h-2.6zM844.4,63.8h2.6v8.9h-2.6zM843.6,74.5h6.8v2.6h-6.8zM820.3,72.4h2.6v8.6h-2.6zM826,72.4h2.6v8.6h-2.6zM863.6,63.8h2.6v6.3h-2.6zM880,63.8h2.6v8.9h-2.6zM878.7,74.5h7.3v2.6h-7.3zM852.7,72.9h2.6v8.3h-2.6zM858.7,72.9h2.6v8.3h-2.6zM887.8,65.9h2.6v6.8h-2.6zM905.9,74.5h9.4v2.6h-9.4zM918.1,75h2.6v6.8h-2.6zM924.1,75h2.6v8.6h-2.6zM775.6,81.8h6.8v2.6h-6.8zM809.9,85.4h2.6v6.8h-2.6zM814.6,85.4h2.6v6.8h-2.6zM845.2,88h2.6v6.8h-2.6zM849.9,88h2.6v6.8h-2.6zM883.1,85.4h2.6v6.8h-2.6zM887.8,85.4h2.6v6.8h-2.6zM918.1,97.9h2.6v9.4h-2.6zM696.2,84.1h6.8v2.6h-6.8zM696.2,88h6.8v2.6h-6.8zM696.2,92.1h6.8v2.6h-6.8zM724.2,84.1h2.6v6.8h-2.6zM727.9,84.1h2.6v6.8h-2.6zM731.5,84.1h2.6v6.8h-2.6zM724.2,94h8.9v2.6h-8.9zM726.3,108.8h2.6v8.1h-2.6zM731.3,108.8h2.6v8.1h-2.6zM738.5,98.4h2.6v6.8h-2.6zM747.1,98.4h2.6v8.1h-2.6zM765.8,88.5h2.6v6.8h-2.6zM772.5,90.1h2.6v6.8h-2.6zM778.2,90.1h2.6v6.8h-2.6zM778.8,99.7h2.6v6.8h-2.6zM772.5,112.6h2.6v7.6h-2.6zM778.2,110.8h2.6v9.4h-2.6zM721.6,120.4h2.9v6.8h-2.9zM725.5,120.4h2.9v6.8h-2.9zM729.4,120.4h2.9v6.8h-2.9zM733.3,120.4h2.9v6.8h-2.9zM737.2,120.4h2.9v6.8h-2.9zM741.1,120.4h2.9v6.8h-2.9zM697,122.3h10.7v2.6h-10.7zM697,126.1h10.7v2.6h-10.7zM710.7,123.5h9.4v2.6h-9.4zM712.8,129h2.6v6.8h-2.6zM713.9,138.6h2.6v6.8h-2.6zM715.2,147.7h2.6v6.8h-2.6zM745.5,132.6h2.6v7h-2.6zM745.5,147.7h2.6v6.8h-2.6zM713.9,157.3h8.1v2.6h-8.1zM715.2,162h6.8v2.6h-6.8zM724.2,157.3h2.9v6.8h-2.9zM728.1,157.3h2.9v6.8h-2.9zM732,157.3h2.9v6.8h-2.9zM735.9,157.3h2.9v6.8h-2.9zM739.8,154.7h2.6v6.8h-2.6zM691.8,157.3h9.4v2.6h-9.4zM691.8,163h9.4v2.6h-9.4zM773.6,158.3h7.6v2.6h-7.6zM963.6,149.5h9.4v2.6h-9.4zM694.4,206.9h6.8v2.4h-6.8zM694.4,210.5h6.8v2.4h-6.8zM697,220.4h6.8v2.6h-6.8zM931.4,201.4h6.8v2.6h-6.8zM931.4,205.6h6.8v2.6h-6.8zM931.9,211.3h2.6v5.5h-2.6zM936.1,211.3h2.6v5.5h-2.6zM939.7,216.5h2.6v6.8h-2.6zM987.7,205.6h6.8v2.6h-6.8zM973.6,114.5h2.8v9.4h-2.8zM978.7,117h2.4v6.9h-2.4zM988.7,115.5h2.6v6.6h-2.6zM1000.2,113.6h2.9v7.3h-2.9zM1005,112.6h3.1v9.8h-3.1zM1010.5,112.6h3.1v9.8h-3.1zM1018.6,116.8h2.8v6.6h-2.8zM1022.4,116.8h2.8v6.6h-2.8zM1034.9,119.8h7.3v2.8h-7.3zM977,125.7h6.6v2.6h-6.6zM977,129.5h6.6v2.6h-6.6zM984.9,125.7h6.6v2.6h-6.6zM984.9,129.5h6.6v2.6h-6.6zM993.3,125.7h6.6v2.6h-6.6zM993.3,129.5h6.6v2.6h-6.6zM1001.2,125.7h6.9v2.6h-6.9zM1001.2,129.5h6.9v2.6h-6.9zM1010.7,125.7h6.6v2.6h-6.6zM1010.7,129.5h6.6v2.6h-6.6zM1018.7,127.8h6.9v2.6h-6.9zM1026.9,124.7h2.8v6.6h-2.8zM1030.7,124.7h2.8v6.6h-2.8zM1035.5,124.7h2.8v6.6h-2.8zM1039.6,124.7h2.8v6.6h-2.8zM971.7,128.7h2.6v9.2h-2.6zM977.3,138.4h7.6v2.8h-7.6zM977.3,142.4h7.6v2.6h-7.6zM985.9,138.6h2.3v6.4h-2.3zM980.2,146.5h6v2.6h-6zM977.7,150.7h6.6v2.2h-6.6zM977.7,154.1h6.6v2.3h-6.6zM977.7,157.7h6.6v2.6h-6.6zM980.2,161.8h6.2v2.3h-6.2zM980.2,165.3h6.2v2.3h-6.2zM973,168.8h2.4v6.6h-2.4zM976.8,169.1h6.9v2.6h-6.9zM976.8,173h6.9v2.6h-6.9zM1034.6,134.8h6.2v2.6h-6.2zM1034.6,138.6h6.2v2.6h-6.2zM1046.9,135.8h6.6v2.6h-6.6zM1046.9,139.7h6.6v2.6h-6.6zM1048.2,143.7h6v2.3h-6zM1034,143.5h6.9v2.3h-6.9zM1034,147.3h2.6v6.9h-2.6zM1038.3,147.3h2.6v6.9h-2.6zM1042.5,147.5h6.6v2.6h-6.6zM1042.5,151.3h6.6v2.6h-6.6zM1034.6,156.4h6.2v2.3h-6.2zM1034.6,160h6.2v2.3h-6.2zM1045.4,161.8h6.9v2.3h-6.9zM1034,163.8h6.9v2.3h-6.9zM1034,167.4h6.9v2.3h-6.9zM1034,170.9h6.9v2.3h-6.9zM1034,174.5h6.9v2.6h-6.9zM1042.5,167.9h6.9v2.3h-6.9zM1042.5,171.4h6.9v2.3h-6.9zM1040.8,178.4h6.6v2.4h-6.6zM976.8,178.9h2.8v7h-2.8zM980.6,178.9h2.8v7h-2.8zM986.6,182.9h6.6v2.4h-6.6zM986.6,186.6h6.6v2.6h-6.6zM995.7,184.8h2.6v9.4h-2.6zM1000.5,180.8h2.6v6.4h-2.6zM1003.7,184.4h2.6v6.6h-2.6zM1004.4,180.8h6.6v2.3h-6.6zM1012,181.9h6.6v2.2h-6.6zM1011.6,188h6.6v2.4h-6.6zM1020,180.8h2.6v7h-2.6zM1024.1,179.9h6.4v2.4h-6.4zM1024.1,183.6h6.4v2.3h-6.4zM1032.7,179.3h2.8v6.6h-2.8zM1036.5,179.3h2.8v6.6h-2.8zM1040.6,181.9h2.6v5.4h-2.6zM1030.8,187.6h6.5v2.6h-6.5zM342.6,288.6h7.3v2.6h-7.3zM350.9,288.6h7.3v2.6h-7.3zM359.2,288.6h7v2.6h-7zM340.7,360.5h7.3v2.6h-7.3zM349,360.5h7.3v2.6h-7.3zM357.3,360.5h7v2.6h-7zM649.6,227.6h6.8v2.6h-6.8zM647,232h6.8v2.6h-6.8zM645.7,312.5h2.6v5.5h-2.6zM673,317.2h6.8v2.6h-6.8zM673,321.1h6.8v2.6h-6.8zM686.5,313.8h6.8v2.6h-6.8zM686.5,317.7h6.8v2.6h-6.8zM645.7,329.9h2.6v6.3h-2.6zM649.4,329.9h2.6v6.3h-2.6zM647,338.5h2.6v6.8h-2.6zM650.7,338.5h2.6v6.8h-2.6zM647,347.5h2.6v6.8h-2.6zM650.9,356.6h7.3v2.9h-7.3zM660.8,356.6h7.3v2.9h-7.3zM650.9,361h7.3v2.9h-7.3zM660.8,361h7.3v2.9h-7.3zM650.9,365.5h7.3v2.9h-7.3zM660.8,365.5h7.3v2.9h-7.3zM650.9,369.9h7.3v2.9h-7.3zM660.8,369.9h7.3v2.9h-7.3zM650.9,374.3h7.3v2.9h-7.3zM660.8,374.3h7.3v2.9h-7.3zM650.9,378.7h7.3v2.9h-7.3zM660.8,378.7h7.3v2.9h-7.3zM650.9,383.1h7.3v2.9h-7.3zM660.8,383.1h7.3v2.9h-7.3zM650.9,387.5h7.3v2.9h-7.3zM660.8,387.5h7.3v2.9h-7.3zM650.9,391.9h7.3v2.9h-7.3zM660.8,391.9h7.3v2.9h-7.3zM697,224.8h6.3v2.4h-6.3zM698.3,241.9h6.8v2.1h-6.8zM931.9,218.5h2.6v6h-2.6zM936.6,220.4h2.6v5.5h-2.6zM933.2,230.2h6v2.6h-6zM940.2,230.2h6.3v2.6h-6.3zM933.2,234.6h6v2.6h-6zM941.8,237.2h6.3v2.6h-6.3zM929.8,239.8h6.8v2.6h-6.8zM704.8,330.7h2.6v6.8h-2.6zM703.5,343.6h2.6v6.8h-2.6zM698.8,351.4h6.8v2.6h-6.8zM345.1,431.8h7.3v2.6h-7.3zM353.5,431.8h7.3v2.6h-7.3zM361.8,431.8h7.3v2.6h-7.3zM385.6,431.5h6.5v2.6h-6.5zM416.5,406.8h2.6v7.3h-2.6zM442.7,445h2.6v7.3h-2.6zM470.5,512h2.6v6.8h-2.6zM474.2,512h2.6v6.8h-2.6zM477.8,514.6h6v3.7h-6zM484.8,508.1h2.6v9.4h-2.6zM467.9,521.8h2.6v6.8h-2.6zM515.9,520.5h6.8v2.6h-6.8zM566,384.7h4.7v2.8h-4.7zM575.5,394.2h2.8v5.5h-2.8zM571.7,401.8h4.7v2.4h-4.7zM582.8,406.4h2.2v5.3h-2.2zM584.1,385.4h2.1v5.3h-2.1zM587.1,385.4h2.1v5.3h-2.1zM590.2,385.4h2.1v5.3h-2.1zM586,404.5h5.7v2.4h-5.7zM595.2,384.7h2.4v5.1h-2.4zM598.6,384.7h2.4v5.1h-2.4zM594.6,391.7h2.2v5.7h-2.2zM604.1,384.7h2.4v5.1h-2.4zM607.5,384.7h2.4v5.1h-2.4zM611,384.7h2.4v5.1h-2.4zM614.4,384.7h2.4v5.1h-2.4zM617.8,384.7h2.4v5.1h-2.4zM621.3,384.7h2.4v5.1h-2.4zM601.3,394.6h4.7v2.4h-4.7zM597.1,399.3h2.2v5.7h-2.2zM603.5,410.6h5.7v2.1h-5.7zM629.9,391.1h5.1v2.1h-5.1zM631.8,394.6h6.2v2.1h-6.2zM618,402.2h2.2v4.7h-2.2zM622.8,405.6h2.6v6.1h-2.6zM622.6,413.3h2.1v5.1h-2.1zM587,419.7h2.2v4h-2.2zM591.7,421.3h2.2v5.1h-2.2zM596.1,419h2.1v4.7h-2.1zM599.2,419h2.1v4.7h-2.1zM607,428.5h7v2.4h-7zM634.6,423.5h6.6v2.4h-6.6zM634.6,427.5h6.6v2.4h-6.6zM594.6,438.4h2.1v4.7h-2.1zM597.6,438.4h2.1v4.7h-2.1zM611.7,438.8h2.1v4.7h-2.1zM614.8,438.8h2.1v4.7h-2.1zM618,439.9h2.2v5.5h-2.2zM621.8,441.8h6.6v2.1h-6.6zM629.9,439.4h2.2v4.7h-2.2zM607.9,445.7h2.2v5.1h-2.2zM605.5,452.3h4.7v2.4h-4.7zM614.6,451.8h5.7v2.1h-5.7zM615,455.6h5.3v2.4h-5.3zM634.6,441.8h4.7v2.4h-4.7zM635.2,458.1h4.7v2.1h-4.7zM581.6,447.4h2.2v6.6h-2.2zM580.7,472.7h2.4v6.2h-2.4zM580.7,489.5h2.4v6.6h-2.4zM635,463.8h2.2v6.1h-2.2zM638.8,467h6.8v2.4h-6.8zM638.8,471.4h6.8v2.4h-6.8zM638.8,475.4h6.8v2.4h-6.8zM639.4,479.4h5.1v2.1h-5.1zM635,471.8h2.2v6.1h-2.2zM634.1,482.6h2.4v6.2h-2.4zM634.1,492.2h2.4v6.6h-2.4zM639,495.6h2.4v6.2h-2.4zM633.7,505.1h7v2.4h-7zM565,514.7h2.4v6.2h-2.4zM568.5,514.7h2.4v6.2h-2.4zM573.6,517h2.4v5.9h-2.4zM577.4,517h2.4v5.9h-2.4zM582.8,511.8h2.4v6.2h-2.4zM586.6,511.8h2.4v6.2h-2.4zM595.2,511.2h7v2.4h-7zM595.2,515.3h7v2.4h-7zM603.2,515.3h7v2.4h-7zM616.1,518.9h6.6v2.4h-6.6zM460.1,552h6.1v2.4h-6.1zM460.5,555.8h2.4v6.6h-2.4zM468.5,552.5h2.4v6.1h-2.4zM472.3,552.5h2.4v6.1h-2.4zM460.5,564.7h2.4v6.2h-2.4zM464.3,564.7h2.4v6.2h-2.4zM468.5,565.9h6.6v2.4h-6.6zM468.5,569.7h6.6v2.4h-6.6zM464.7,586.8h6.2v2.6h-6.2zM464.7,590.5h6.2v2.8h-6.2zM464.7,594.3h6.2v2.6h-6.2zM464.7,597.9h6.2v2.8h-6.2zM464.7,601.7h6.2v2.6h-6.2zM464.7,605.3h6.2v2.8h-6.2zM464.7,609.2h6.2v2.8h-6.2zM455.8,601.9h2.4v5.9h-2.4zM456.7,609.5h2.4v6.6h-2.4zM463.8,616.8h6.6v2.8h-6.6zM463.8,620.6h6.6v2.8h-6.6zM463,624.8h6.6v2.4h-6.6zM463,628.2h6.6v2.4h-6.6zM463,631.7h6.6v2.4h-6.6zM454.2,626.3h2.4v6.6h-2.4zM616.3,523.4h5.7v2.1h-5.7zM616.3,526.6h5.7v2.1h-5.7zM612.1,530.4h5.7v2.1h-5.7zM612.1,533.5h5.7v2.1h-5.7zM616.9,536.7h5.7v1.9h-5.7zM616.9,539.6h5.7v1.9h-5.7zM609.8,542.4h5.5v1.9h-5.5zM609.8,545.3h5.5v2.1h-5.5zM609.2,562.1h2.4v6.1h-2.4zM612.7,559.6h2.4v5.7h-2.4zM604.1,572h2.4v6.2h-2.4zM607.9,572h2.4v6.2h-2.4zM611.7,576.4h7v2.4h-7zM608.9,589.5h6.6v2.4h-6.6zM608.9,601.9h6.6v2.4h-6.6zM610.2,605.9h6.6v2.4h-6.6zM611.1,609.7h6.6v2.4h-6.6zM608.9,623.5h2.4v6.6h-2.4zM612.7,618.7h2.4v6.6h-2.4zM612.7,627.6h2.4v6.2h-2.4zM608.9,641.9h7v2.8h-7zM608.9,645.8h7v2.8h-7zM608.9,649.6h7v2.8h-7zM497.7,653h2.4v6.6h-2.4zM501.5,653h2.4v6.6h-2.4zM497.7,661h2.4v6.6h-2.4zM501.5,661h2.4v6.6h-2.4zM507.2,658.7h2.4v7.2h-2.4zM515.4,657.4h2.4v6.6h-2.4zM519.2,657.4h2.4v6.6h-2.4zM522.9,648.8h2.4v6.6h-2.4zM526.7,648.8h2.4v6.6h-2.4zM526.7,657.8h2.4v6.6h-2.4zM530.5,657.8h2.4v6.6h-2.4zM532.6,650.1h2.4v6.6h-2.4zM536.8,658.7h2.4v6.6h-2.4zM537.7,647.9h2.4v6.2h-2.4zM541.9,647.9h2.4v6.2h-2.4zM543.1,658.7h2.4v6.6h-2.4zM546.9,658.7h2.4v6.6h-2.4zM550.7,658.7h2.4v6.6h-2.4zM550.7,647.9h2.4v6.2h-2.4zM554.9,654.5h2.4v6.2h-2.4zM558.7,655.3h2.4v6.2h-2.4zM562.5,654h2.4v6.2h-2.4zM570.7,652.6h2.4v6.6h-2.4zM574.2,652.6h2.6v6.6h-2.6zM577.8,652.6h2.4v6.6h-2.4zM581.2,652.6h2.6v6.6h-2.6zM584.8,652.6h2.4v6.6h-2.4zM591.1,653.6h2.4v5.9h-2.4zM594.2,653h2.4v5.9h-2.4zM598,654h7v2.4h-7zM730.7,611.5h2.8v5.9h-2.8zM820.5,616.6h5.9v3.1h-5.9zM686.8,635.1h5.9v3.1h-5.9zM708.6,671.5h5.9v2.8h-5.9zM769.1,673h2.8v5.9h-2.8zM719.3,685.7h2.8v5.9h-2.8zM727.7,699.2h2.8v6.1h-2.8zM733.5,699.2h2.8v6.1h-2.8zM738.4,699.2h2.8v6.6h-2.8zM742.2,699.2h2.8v6.6h-2.8zM746,699.2h2.8v6.6h-2.8zM749.8,699.2h2.8v6.6h-2.8zM753.6,699.2h2.8v6.6h-2.8zM758.7,699.7h5.9v2.6h-5.9zM766.8,703h2.8v7.1h-2.8zM771.2,703h2.8v7.1h-2.8zM749.8,707.3h2.8v7.1h-2.8zM753.6,707.3h2.8v7.1h-2.8zM1010.4,644.5h2.8v7.1h-2.8zM994.6,653.2h7.1v2.6h-7.1zM1004.3,653.2h7.1v2.6h-7.1zM127.7,601.8h3.2v9.5h-3.2zM80.4,640.3h2.8v9.5h-2.8zM86.7,640.3h2.8v9.5h-2.8zM159.6,575.5h6.6v2.8h-6.6zM167.8,574.7h6.6v2.8h-6.6zM212.6,562.7h7.2v2.8h-7.2zM207.8,578.5h2.8v9.3h-2.8zM214.5,585h2.8v7.2h-2.8zM201.7,577.9h2.4v6.6h-2.4zM149.6,581.2h2.6v7.2h-2.6zM153.3,581.2h2.6v7.2h-2.6zM156.9,581.2h2.6v7.2h-2.6zM160.5,581.2h6.6v3h-6.6zM160.5,585.2h6.6v3.2h-6.6zM169.7,580.8h7.2v2.8h-7.2zM169.7,584.6h7.2v2.8h-7.2zM177.9,581.2h2.6v6.2h-2.6zM182.1,582.7h2.6v7h-2.6zM185.7,581.7h2.6v6.6h-2.6zM189.7,586.5h2.6v6.6h-2.6zM193.9,580.8h6.6v2.8h-6.6zM193.9,584.6h6.6v2.8h-6.6zM143.5,589.4h6.6v2.8h-6.6zM144.9,593.6h6.2v2.8h-6.2zM144.9,597.4h6.2v2.8h-6.2zM144.9,601.2h6.2v2.6h-6.2zM144.9,604.8h6.2v2.8h-6.2zM144.9,608.6h6.2v2.8h-6.2zM144.9,612.4h6.2v2.8h-6.2zM144.9,616.3h6.2v2.8h-6.2zM144.9,620.1h6.2v2.6h-6.2zM144.9,623.7h6.2v2.8h-6.2zM144.9,627.5h6.2v2.8h-6.2zM194.8,594.1h2.6v6.6h-2.6zM199.2,594.1h7v2.8h-7zM199.2,597.9h7v2.8h-7zM193.1,602.1h6.6v2.8h-6.6zM193.1,606h6.6v2.8h-6.6zM193.1,609.8h6.6v2.8h-6.6zM202.1,605.6h6.2v2.8h-6.2zM202.1,609.4h6.2v2.8h-6.2zM202.1,613.2h6.2v2.8h-6.2zM202.1,617h6.2v2.8h-6.2zM193.1,614.2h2.6v6.2h-2.6zM196.7,614.2h2.6v6.2h-2.6zM196.7,622.7h6.6v2.4h-6.6zM196.7,626.2h6.6v2.4h-6.6zM188.3,626.5h6.6v2.8h-6.6zM188.3,630.4h6.6v2.8h-6.6zM196.4,630.4h2.6v7h-2.6zM200.4,630.4h2.6v7h-2.6zM155,626.5h2.6v7.2h-2.6zM159,626.5h2.6v7.2h-2.6zM163.6,629h3v7h-3zM167.6,629h3v7h-3zM171.6,629h3v7h-3zM175.6,629h3v7h-3zM179.6,629h3v7h-3zM183.6,629h3.2v7h-3.2zM151.9,639.3h9.5v2.8h-9.5zM165.8,641.8h2.6v6.2h-2.6zM169.9,641.8h2.6v6.2h-2.6zM173.5,641.8h2.6v6.2h-2.6zM178.8,647.5h2.6v7h-2.6zM167.2,663.3h7.2v2.8h-7.2zM136.7,664.3h6.6v2.4h-6.6zM136.7,667.7h6.6v2.4h-6.6zM137.2,671.2h5.7v2.4h-5.7zM159.2,667h6.6v2.4h-6.6zM157.6,670.8h6.6v2.4h-6.6zM176.3,668.9h7v2.4h-7zM186.4,664.7h2.6v6.6h-2.6zM190.1,664.7h2.6v6.6h-2.6zM193.7,664.7h2.6v6.6h-2.6zM197.3,664.7h2.8v6.6h-2.8zM206.8,664.7h2.6v6.6h-2.6zM213.9,664.7h2.6v6.6h-2.6zM220.8,664.7h7v2.8h-7zM220.8,668.5h7v2.8h-7zM229.1,664.7h2.6v6.6h-2.6zM232.8,664.7h2.6v6.6h-2.6zM238.3,661.8h2.6v9.1h-2.6zM254.9,621.4h2.6v7h-2.6zM258.9,621.4h2.6v7h-2.6zM263.5,622.7h2.6v6.2h-2.6zM267.1,622.7h2.4v6.2h-2.4zM254.1,630.4h6.1v2.8h-6.1zM254.1,634.2h6.1v2.8h-6.1zM254.1,638h6.1v2.8h-6.1zM254.1,641.8h6.1v1.9h-6.1zM241.2,638.4h7v2.8h-7zM235.8,649.4h2.6v7h-2.6zM257.7,644.7h2.6v6.6h-2.6zM245.9,653.2h6.6v2.8h-6.6zM245.9,657.1h6.6v2.8h-6.6zM254.1,652.9h6.6v2.8h-6.6zM254.1,656.7h6.6v2.4h-6.6zM276.7,609.4h2.8v8.9h-2.8zM281.5,610.3h2.8v7h-2.8zM286.6,610.3h2.8v10.1h-2.8zM291.6,610.3h2.8v7h-2.8zM295.4,610.3h2.8v7h-2.8zM299.2,610.3h2.8v7h-2.8zM321.3,609.4h2.8v8.9h-2.8zM326.1,610.3h2.8v7h-2.8zM331.2,610.3h2.8v10.1h-2.8zM336.2,610.3h2.8v7h-2.8zM340,610.3h2.8v7h-2.8zM343.8,610.3h2.8v7h-2.8zM366.3,609.4h2.8v8.9h-2.8zM371.1,610.3h2.8v7h-2.8zM376.2,610.3h2.8v10.1h-2.8zM381.2,610.3h2.8v7h-2.8zM385,610.3h2.8v7h-2.8zM388.8,610.3h2.8v7h-2.8zM408.3,609.4h2.8v8.9h-2.8zM413,610.3h2.8v7h-2.8zM418.2,610.3h2.8v10.1h-2.8zM423.1,610.3h2.8v7h-2.8zM426.9,610.3h2.8v7h-2.8zM430.8,610.3h2.8v7h-2.8zM271,587.5h2.8v7.6h-2.8zM271,596.4h2.8v7.6h-2.8zM305.7,584.2h2.8v7.4h-2.8zM305.7,593.2h2.8v7.6h-2.8zM305.7,602.3h2.8v7.4h-2.8zM315.4,586.9h2.8v7.6h-2.8zM315.4,596h2.8v7.6h-2.8zM350.1,584.2h2.8v7.4h-2.8zM350.1,593.2h2.8v7.6h-2.8zM350.1,602.3h2.8v7.4h-2.8zM360.6,588h2.8v7.4h-2.8zM360.6,597h2.8v7.2h-2.8zM395.3,583.3h2.8v7.4h-2.8zM395.3,591.7h2.8v7.4h-2.8zM395.3,600h2.8v7.4h-2.8zM402.5,586.5h2.8v7h-2.8zM402.5,595.5h2.8v6.8h-2.8zM437.2,583.7h2.8v7.6h-2.8zM437.2,592.6h2.8v7.6h-2.8zM437.2,601.6h2.8v6.8h-2.8zM274.8,624.6h8.5v2.4h-8.5zM285.3,625.6h2.8v6.6h-2.8zM293.9,622.4h2.8v8.9h-2.8zM311.6,625.6h2.8v7.6h-2.8zM317.7,624.6h2.8v9.5h-2.8zM333.5,628.5h2.8v7.6h-2.8zM294.4,635.7h2.8v6.6h-2.8zM298.6,645h2.8v7.2h-2.8zM302.8,645h2.8v7.2h-2.8zM293.9,658.4h6.6v2.8h-6.6zM301.9,656.7h2.8v6.6h-2.8zM264.7,664.1h2.6v6.2h-2.6zM268.3,664.1h2.6v6.2h-2.6zM271.9,664.1h2.8v6.2h-2.8zM264.3,671.7h6.6v2.8h-6.6zM281.5,665.6h6.6v2.4h-6.6zM290.1,664.7h6.6v2.8h-6.6zM290.1,668.5h6.6v2.8h-6.6zM276.7,669.4h2.8v5.1h-2.8zM280.5,669.4h2.8v5.1h-2.8zM285.3,670.4h2.8v4.1h-2.8zM290.1,672.3h6.6v2.2h-6.6zM394.9,637h2.8v11h-2.8zM403.5,637h2.8v10.4h-2.8zM380.6,651.3h6.6v2.8h-6.6zM381.9,662.4h10.4v2.8h-10.4zM381.9,670.8h10.4v2.8h-10.4zM431.1,628.5h7.2v2.8h-7.2zM432.7,670.8h7v2.4h-7zM131.9,676.6h3.3v7.6h-3.3zM77.6,701.5h9.7v2.7h-9.7zM82.3,706.9h3.1v9.3h-3.1zM77.3,720.5h9.6v2.9h-9.6zM77.1,728.6h9.6v2.7h-9.6zM131.9,728.7h9.7v2.6h-9.7zM131.9,736.9h9.7v2.9h-9.7zM131.9,745h9.7v3h-9.7zM131.9,753h9.7v3.1h-9.7zM249.8,676.2h9.7v2.6h-9.7zM249.8,682.2h9.7v2.7h-9.7zM251.9,687.2h6.9v2.7h-6.9zM292.6,682.6h2.9v7.3h-2.9zM296.5,682.6h3v7.3h-3zM302.9,686.9h2.9v7.3h-2.9zM306.7,686.9h2.9v7.3h-2.9zM304.3,723.3h7.3v3.3h-7.3zM304.3,727.6h7.3v3.3h-7.3zM304.3,731.9h7.3v3.3h-7.3zM304,740.7h7.3v3h-7.3zM304,744.7h7.3v3h-7.3zM304,748.7h7.3v3h-7.3zM304,752.7h7.3v3.1h-7.3zM304,756.9h7.3v3h-7.3zM441.5,671.2h3v7.1h-3zM445.5,671.2h3v7.1h-3zM264.8,675.5h6.4v3h-6.4zM264.8,679.8h6.4v3h-6.4zM536.8,672.8h7.2v2.6h-7.2zM536.8,676.4h7.2v2.6h-7.2zM1025.9,633.9h7v3h-7zM1025.9,637.9h7v3h-7zM1025.9,641.9h7v3h-7zM1025.9,645.9h7v3.2h-7zM1025.9,653.5h7v3h-7zM1025.9,657.5h7v3h-7zM1025.9,663.1h7v3h-7zM1025.9,667.1h7v3h-7zM1022.8,672h9.5v3.2h-9.5zM1022.8,677.7h9.5v3.2h-9.5zM1022.8,683.5h9.5v2.8h-9.5zM1022.8,688.8h9.5v3.2h-9.5zM1088.6,598h7v2.8h-7zM1089.6,602.4h5.7v2.4h-5.7zM1089.6,605.9h5.7v2.4h-5.7zM1086.3,625.7h5.7v2.4h-5.7zM1086.7,640h7v2.4h-7zM1086.7,643.4h7v2.4h-7zM1087.7,660.2h5.7v2.4h-5.7zM1087.7,663.6h5.7v2.4h-5.7zM1087.7,667.1h6.6v2.4h-6.6zM1087.7,679.6h6.6v2.8h-6.6zM1045.3,707.9h3.2v7.4h-3.2zM1071.1,694.9h7.2v2.8h-7.2zM1074.5,700h3v7.2h-3zM1078.5,700h3v7.2h-3zM1074.5,708.6h7v2.4h-7zM1084,700.2h3.2v9.3h-3.2zM1129.8,591h6.1v2.4h-6.1zM1129.8,594.4h6.1v2.4h-6.1zM1129.8,597.8h5.1v2.2h-5.1zM1137.4,590h3.2v7.2h-3.2zM1155,582.8h7v2.4h-7zM1155,586.2h7v2.4h-7zM1155.4,590h2.8v5.7h-2.8zM1158.8,593.5h2.8v6.6h-2.8zM1157.3,603.8h5.9v2.4h-5.9zM1157.3,607.2h5.9v2.4h-5.9zM1148.7,611.6h7.2v2.8h-7.2zM1160.7,611.6h6.6v2.8h-6.6zM1160.7,615.8h6.6v2.8h-6.6zM1138.2,605.3h2.8v7h-2.8zM1140.1,650.7h7.2v2.8h-7.2zM1140.1,654.5h7.2v2.8h-7.2zM1151.7,651h7.2v2.8h-7.2zM1151.7,654.9h7.2v2.4h-7.2zM1110.2,664h7v2.8h-7zM1110.2,667.8h7v2.8h-7zM1110.2,671.6h7v2.8h-7zM1140.3,663.4h7v2.8h-7zM1140.3,667.2h7v2.8h-7zM1140.3,671.1h7v3.2h-7zM1114.6,675.8h3.2v7.2h-3.2zM1118.7,675.8h3v7.2h-3zM1122.7,675.8h3.2v7.2h-3.2zM1126.9,675.8h3.2v7.2h-3.2zM1131.1,675.8h3v7.2h-3zM1135.1,675.8h3.2v7.2h-3.2zM1139.3,675.8h3.2v7.2h-3.2zM1143.9,700.2h2.8v9.3h-2.8zM1149.3,700.2h2.8v7.4h-2.8zM1160.7,700.2h2.8v7.4h-2.8zM1168.3,700.2h3.2v8.9h-3.2zM1150.2,709.2h7v2.4h-7zM1158.8,709.2h6.6v2.4h-6.6zM1170.6,710.7h7v2.6h-7zM1223.5,600.5h8.1v3.3h-8.1zM1223.5,607h8.1v3.3h-8.1zM1237.5,593.6h2.9v7.4h-2.9zM1243.5,591.4h2.9v7.6h-2.9zM1246.6,600.5h8.1v3.3h-8.1zM1246.6,607h8.1v3.3h-8.1zM1237.5,616.3h2.9v7.6h-2.9zM1281.4,586.9h2.9v7.6h-2.9zM1288.9,587.1h8.1v3.3h-8.1zM1297.4,587.1h2.9v7.6h-2.9zM1294.1,596.2h2.5v6.1h-2.5zM1297.6,596.2h2.5v6.1h-2.5zM1303.4,587.1h2.9v7.6h-2.9zM1310.3,587.5h2.9v7.2h-2.9zM1313.8,587.1h7.6v3.3h-7.6zM1326.5,586h2.5v7h-2.5zM1330,586h2.9v6.3h-2.9zM1299.5,637.2h7.6v3.3h-7.6zM1311.4,637.2h7.6v3.3h-7.6zM1185,668.1h7.6v2.9h-7.6zM1202.3,676.6h2.9v6.1h-2.9zM1209,677.6h2.5v5.7h-2.5zM1212.4,677.6h2.5v5.7h-2.5zM1214.4,683.7h6.3v2.5h-6.3zM1214.4,687.1h6.3v2.5h-6.3zM1214.4,694.1h6.3v3.3h-6.3zM1228.9,684.8h2.5v6.1h-2.5zM1228.9,691.7h6.6v2.9h-6.6zM1237.1,689.1h2.9v6.1h-2.9zM1190.4,695.6h5.9v2.9h-5.9zM1190.4,701.6h5.9v2.9h-5.9zM1199.2,697.3h2.9v5.9h-2.9zM1203.6,701.6h2.9v5.9h-2.9zM1211.6,700.3h2.9v5.7h-2.9zM1215.5,707.5h7v2.9h-7zM1216.5,714.6h7v2.9h-7zM1205.5,718.7h9.4v2.9h-9.4zM1288.7,689.7h8.5v3.3h-8.5zM1302.3,699.5h3.3v8.1h-3.3zM1346.2,701h5.9v2.9h-5.9zM1349.4,704.9h2.9v4.8h-2.9zM1359.3,604.5h5.6v2.6h-5.6zM1362.1,620.2h7.3v2.8h-7.3zM1393.1,631.8h7.3v2.6h-7.3zM1401.4,631.8h7.3v2.6h-7.3zM1394.8,635.9h5.6v2.3h-5.6zM1401.4,635.9h5.1v2.3h-5.1zM1374.1,644.7h6.8v2.3h-6.8zM1375.6,648.3h5.6v2.6h-5.6zM1381.9,643.9h2.3v5.6h-2.3zM1384.4,649.1h5.3v2h-5.3zM1384.4,652.1h5.3v2.3h-5.3zM1391,651.9h5.6v2.3h-5.6zM1398.4,652.1h5.3v2.3h-5.3zM1403.9,656.1h5.3v2.6h-5.3zM1373.1,657.4h2.6v5.6h-2.6zM1379.4,660.7h2.3v7.3h-2.3zM1384.4,657.4h2.3v5.6h-2.3zM1385.2,664h2v4.8h-2zM1388.2,664h2v4.8h-2zM1391.3,657.4h2.3v5.6h-2.3zM1394.8,659.9h2v5.6h-2zM1397.7,659.9h2v5.6h-2zM1400.7,659.9h2v5.6h-2zM1403.7,659.9h2v5.6h-2zM1366.5,664.5h5.3v2.1h-5.3zM1366.5,667.6h5.3v2.1h-5.3zM1366.5,670.8h5.3v2.1h-5.3zM1400.9,670.9h5.6v2h-5.6zM1400.9,673.9h5.6v2h-5.6zM1376.4,675.9h2.3v5.6h-2.3zM1381.9,675.6h2.3v4.8h-2.3zM1388.2,675.6h7.3v2.6h-7.3zM1397.9,676.4h2.3v5.9h-2.3zM1403.7,679.2h2.3v6.1h-2.3zM1407.3,679.2h2.3v6.1h-2.3zM1382.7,681.7h5.6v2.3h-5.6zM1359.6,682.7h5.6v2.3h-5.6zM1412.9,677.2h5.6v2.3h-5.6zM1412.9,680.5h5.6v2.3h-5.6zM1414.1,683.8h6.1v2.3h-6.1zM1413.3,688.3h6.9v2.8h-6.9zM1364.9,688h5.3v2.3h-5.3zM1364.9,691.3h5.3v2h-5.3zM1374.5,688.3h6.4v2.3h-6.4zM1381.9,685.5h2.3v4.8h-2.3zM1385.2,688h2.3v5.6h-2.3zM1388.8,688.8h2.6v5.9h-2.6zM1392.5,688.8h2.6v5.9h-2.6zM1397.6,690.8h5.6v2.8h-5.6zM1403.7,687.6h2.3v5.1h-2.3zM1366.2,695.4h5.3v2h-5.3zM1365.4,698.4h5.3v2h-5.3zM1359.3,698.7h2.6v5.6h-2.6zM1374.9,699.8h2.3v5.3h-2.3zM1365.7,705.8h2v5.4h-2zM1368.7,705.8h1.8v5.4h-1.8zM1371.5,705.8h2v5.4h-2zM1374.5,705.8h1.8v5.4h-1.8zM1400.9,699.2h5.9v2.3h-5.9zM1400.9,702.5h5.9v2.3h-5.9zM1437.7,581.7h7.3v3.1h-7.3zM1437.7,585.9h7.3v3.1h-7.3zM1437.7,590h7.3v2.8h-7.3zM1437.7,593.8h7.3v3.1h-7.3zM1437.7,605.9h7.3v3.1h-7.3zM1437.7,610h7.3v3.1h-7.3zM1437.7,614.1h7.3v3.1h-7.3zM1437.7,618.3h7.3v3.1h-7.3zM1427,661.5h5.6v2.6h-5.6zM1427,665.2h5.6v2.5h-5.6zM1436.7,660.7h6.9v2.6h-6.9zM1436.7,664.8h6.9v2.8h-6.9zM1444.7,659h2.6v10.9h-2.6zM1457.5,664.8h3v10.1h-3zM1435.9,676.9h10.6v2.3h-10.6zM1435.9,680.2h10.6v2.1h-10.6zM1447.6,673.6h2.6v11.4h-2.6zM1452.6,582.2h7.1v13h-7.1zM1452.6,597.6h7.1v12.2h-7.1zM1452.6,612.5h7.1v12.2h-7.1zM1450.2,425.9h7.4v2.8h-7.4zM1450.2,430.2h7.4v2.8h-7.4zM1421.7,441.2h7.1v3.1h-7.1zM1421.7,445.2h7.1v3.1h-7.1zM1430.6,441.2h10.4v3.1h-10.4zM1430.6,445.2h10.4v3.1h-10.4zM1430.6,450.6h10.4v2.8h-10.4zM1430.6,454.4h10.4v2.8h-10.4zM1440.5,460.3h2.6v6.6h-2.6zM1432.4,465.3h6.6v2.8h-6.6zM1450.2,459.5h5.9v2.6h-5.9zM1447.6,464.1h9.2v2.8h-9.2zM1447.6,469.7h9.2v2.8h-9.2zM1451.4,474.2h5.4v2.6h-5.4zM1452.7,500.9h2.6v7.1h-2.6zM1383.6,515.7h7.6v3.1h-7.6zM1399.3,517h7.1v3.1h-7.1zM1413.3,511.6h2.8v6.6h-2.8zM1429.8,511.6h2.8v6.6h-2.8zM1450.2,516.7h7.1v2.8h-7.1zM1450.2,520.5h7.1v2.8h-7.1zM1452.2,528.9h2.8v11h-2.8zM1349.7,548.5h7.4v2.8h-7.4zM1349.2,554.3h5.9v2.3h-5.9zM1349.2,557.6h5.9v2.3h-5.9zM1349.2,560.9h5.9v2.3h-5.9zM1349.2,564.2h5.9v2.3h-5.9zM1349.2,567.5h5.9v2.3h-5.9zM1357.9,553.1h2.6v5.9h-2.6zM1361.4,553.1h2.6v5.9h-2.6zM1368.8,553.8h2.6v6.6h-2.6zM1368,562h5.9v2.6h-5.9zM1342.9,572.6h7.4v2.6h-7.4zM1357.6,571.6h2.6v6.6h-2.6zM1363.7,571.4h2.6v5.6h-2.6zM1367.3,571.4h2.3v5.6h-2.3zM1427.3,423.4h5.4v5.4h-5.4zM1427.3,431h5.4v5.9h-5.4zM1444.6,442.5h8.9v13h-8.9zM1515.1,297.9h4.4v17.2h-4.4zM1426.6,333.7h3.3v7.2h-3.3zM1435.3,336.3h7.4v2.8h-7.4zM1467.8,335.6h6.6v2.4h-6.6zM1467.8,339.4h6.6v2.8h-6.6zM1467.8,344.7h6.6v2.5h-6.6zM1455.3,370.3h6.9v2.8h-6.9zM1430.4,363.3h2.8v7.1h-2.8zM1430.4,397.6h2.8v6.8h-2.8zM1463.5,387.8h2.8v11h-2.8zM1469.6,391.2h3v7.1h-3zM1475.7,401.4h7.5v2.8h-7.5zM1475.7,405.2h7.5v2.8h-7.5z" fill="#707070" stroke="#d0d0d0" stroke-width="1" shape-rendering="crispEdges"/>
<path d="M378.3,98h0M386.4,148h0M417.8,200.7h0M344.4,218.3h0M352.7,218.3h0M360.9,218.3h0M372.4,219.2h0M477,86.2h0M477,90.3h0M477,94.5h0M477,98.7h0M477,102.8h0M475.2,107.7h0M479,120.5h0M588.4,45.2h0M601.9,40.8h0M609.7,40.8h0M586,57.9h0M591.8,57.9h0M563.5,69.4h0M571.8,66.6h0M579.2,66.6h0M571.8,70.2h0M579.2,70.2h0M562.2,75.8h0M594.9,71h0M601.1,71.3h0M608.9,69.4h0M550,83.9h0M550,95h0M553.6,105.4h0M571.5,156.7h0M660,96.3h0M667.8,96.3h0M675.9,96.3h0M624.7,109.3h0M667,109.2h0M674.7,111.9h0M683.9,200.3h0M659.8,213.1h0M864,40.8h0M747.5,75h0M798.2,67.2h0M815.9,67.6h0M815.9,77.1h0M787.3,77.1h0M793.6,77.1h0M829.4,67h0M845.7,68.3h0M847,75.8h0M821.6,76.7h0M827.3,76.7h0M865,67h0M881.3,68.3h0M882.3,75.8h0M854,77.1h0M860,77.1h0M889.1,69.3h0M910.6,75.8h0M919.5,78.4h0M925.4,79.3h0M779,83.1h0M811.2,88.8h0M815.9,88.8h0M846.5,91.4h0M851.2,91.4h0M884.4,88.8h0M889.1,88.8h0M919.5,102.5h0M699.6,85.4h0M699.6,89.3h0M699.6,93.5h0M725.6,87.5h0M729.2,87.5h0M732.8,87.5h0M728.7,95.3h0M727.6,112.8h0M732.6,112.8h0M739.8,101.8h0M748.4,102.4h0M767.1,91.9h0M773.8,93.5h0M779.6,93.5h0M780.1,103.1h0M773.8,116.4h0M779.6,115.5h0M723.1,123.8h0M727,123.8h0M730.9,123.8h0M734.8,123.8h0M738.7,123.8h0M742.6,123.8h0M702.3,123.6h0M702.3,127.5h0M715.4,124.9h0M714.1,132.4h0M715.2,142h0M716.5,151.1h0M746.8,136.2h0M746.8,151.1h0M717.9,158.6h0M718.6,163.3h0M725.7,160.7h0M729.6,160.7h0M733.5,160.7h0M737.4,160.7h0M741.1,158.1h0M696.5,158.6h0M696.5,164.3h0M777.3,159.6h0M968.3,150.8h0M697.8,208.1h0M697.8,211.7h0M700.4,221.7h0M934.8,202.7h0M934.8,206.9h0M933.2,214h0M937.4,214h0M941,219.9h0M991.1,206.9h0M975,119.2h0M979.9,120.5h0M990,118.8h0M1001.6,117.2h0M1006.5,117.5h0M1012,117.5h0M1020,120.1h0M1023.8,120.1h0M1038.5,121.2h0M980.3,126.9h0M980.3,130.8h0M988.2,126.9h0M988.2,130.8h0M996.6,126.9h0M996.6,130.8h0M1004.6,126.9h0M1004.6,130.8h0M1014,126.9h0M1014,130.8h0M1022.2,129.1h0M1028.3,128h0M1032.1,128h0M1036.9,128h0M1041,128h0M973,133.3h0M981.1,139.8h0M981.1,143.7h0M987.1,141.8h0M983.2,147.8h0M981,151.8h0M981,155.3h0M981,159h0M983.3,162.9h0M983.3,166.5h0M974.2,172.1h0M980.2,170.4h0M980.2,174.2h0M1037.7,136.1h0M1037.7,139.9h0M1050.3,137.1h0M1050.3,140.9h0M1051.2,144.9h0M1037.4,144.6h0M1035.3,150.7h0M1039.6,150.7h0M1045.8,148.8h0M1045.8,152.6h0M1037.7,157.6h0M1037.7,161.1h0M1048.9,162.9h0M1037.4,165h0M1037.4,168.5h0M1037.4,172.1h0M1037.4,175.8h0M1045.9,169h0M1045.9,172.6h0M1044.1,179.6h0M978.2,182.4h0M982,182.4h0M989.9,184.1h0M989.9,187.8h0M997,189.5h0M1001.8,184h0M1005,187.7h0M1007.7,182h0M1015.3,182.9h0M1014.9,189.2h0M1021.3,184.3h0M1027.2,181.2h0M1027.2,184.8h0M1034.1,182.6h0M1037.9,182.6h0M1041.9,184.5h0M1034,188.9h0M346.2,289.9h0M354.5,289.9h0M362.7,289.9h0M344.4,361.8h0M352.7,361.8h0M360.9,361.8h0M653,228.9h0M650.4,233.3h0M647,315.2h0M676.4,318.5h0M676.4,322.4h0M689.9,315.1h0M689.9,319h0M647,333h0M650.7,333h0M648.3,341.8h0M652,341.8h0M648.3,350.9h0M654.6,358.1h0M664.4,358.1h0M654.6,362.5h0M664.4,362.5h0M654.6,366.9h0M664.4,366.9h0M654.6,371.3h0M664.4,371.3h0M654.6,375.7h0M664.4,375.7h0M654.6,380.1h0M664.4,380.1h0M654.6,384.5h0M664.4,384.5h0M654.6,389h0M664.4,389h0M654.6,393.4h0M664.4,393.4h0M700.1,226h0M701.7,243h0M933.2,221.5h0M937.9,223.1h0M936.2,231.5h0M943.3,231.5h0M936.2,235.9h0M944.9,238.5h0M933.2,241.1h0M706.1,334.1h0M704.8,347h0M702.2,352.8h0M348.8,433.1h0M357.1,433.1h0M365.4,433.1h0M388.9,432.8h0M417.8,410.5h0M444.1,448.7h0M471.8,515.4h0M475.5,515.4h0M480.8,516.4h0M486.1,512.8h0M469.2,525.2h0M519.3,521.8h0M568.3,386.1h0M576.9,396.9h0M574.1,403h0M583.9,409h0M585.1,388.1h0M588.2,388.1h0M591.2,388.1h0M588.8,405.7h0M596.4,387.2h0M599.8,387.2h0M595.7,394.5h0M605.3,387.2h0M608.8,387.2h0M612.2,387.2h0M615.6,387.2h0M619.1,387.2h0M622.5,387.2h0M603.6,395.8h0M598.2,402.2h0M606.4,411.6h0M632.4,392.2h0M634.9,395.6h0M619.2,404.6h0M624.1,408.7h0M623.6,415.8h0M588.1,421.7h0M592.8,423.8h0M597.1,421.3h0M600.2,421.3h0M610.5,429.7h0M637.9,424.8h0M637.9,428.8h0M595.6,440.8h0M598.7,440.8h0M612.8,441.2h0M615.8,441.2h0M619.2,442.7h0M625.2,442.9h0M631,441.7h0M609.1,448.2h0M607.8,453.6h0M617.4,452.8h0M617.6,456.8h0M637,443.1h0M637.6,459.1h0M582.7,450.7h0M581.9,475.9h0M581.9,492.8h0M636.1,466.8h0M642.2,468.2h0M642.2,472.6h0M642.2,476.6h0M641.9,480.4h0M636.1,474.8h0M635.3,485.8h0M635.3,495.5h0M640.2,498.7h0M637.2,506.4h0M566.2,517.8h0M569.7,517.8h0M574.8,519.9h0M578.6,519.9h0M584,514.9h0M587.8,514.9h0M598.7,512.5h0M598.7,516.5h0M606.7,516.5h0M619.4,520.1h0M463.2,553.2h0M461.7,559.1h0M469.7,555.6h0M473.6,555.6h0M461.7,567.9h0M465.5,567.9h0M471.8,567.1h0M471.8,570.9h0M467.8,588.2h0M467.8,591.9h0M467.8,595.6h0M467.8,599.3h0M467.8,603h0M467.8,606.7h0M467.8,610.6h0M457,604.8h0M457.9,612.9h0M467.1,618.2h0M467.1,622h0M466.3,626h0M466.3,629.4h0M466.3,632.9h0M455.4,629.6h0M619.1,524.4h0M619.1,527.6h0M614.9,531.4h0M614.9,534.5h0M619.7,537.6h0M619.7,540.5h0M612.5,543.4h0M612.5,546.3h0M610.4,565.1h0M613.9,562.4h0M605.3,575.1h0M609.1,575.1h0M615.2,577.6h0M612.2,590.7h0M612.2,603.1h0M613.5,607.1h0M614.5,610.9h0M610.1,626.8h0M613.9,622h0M613.9,630.8h0M612.4,643.4h0M612.4,647.2h0M612.4,651h0M498.9,656.3h0M502.7,656.3h0M498.9,664.3h0M502.7,664.3h0M508.4,662.3h0M516.6,660.7h0M520.5,660.7h0M524.1,652.1h0M527.9,652.1h0M527.9,661.1h0M531.7,661.1h0M533.8,653.5h0M538,662h0M539,651h0M543.1,651h0M544.3,662h0M548.1,662h0M551.9,662h0M551.9,651h0M556.1,657.7h0M559.9,658.4h0M563.7,657.1h0M571.9,655.9h0M575.5,655.9h0M579,655.9h0M582.5,655.9h0M586,655.9h0M592.3,656.5h0M595.4,655.9h0M601.5,655.2h0M732.1,614.4h0M823.4,618.1h0M689.7,636.7h0M711.6,672.9h0M770.5,675.9h0M720.7,688.7h0M729.1,702.3h0M734.9,702.3h0M739.8,702.5h0M743.6,702.5h0M747.4,702.5h0M751.2,702.5h0M755,702.5h0M761.6,701h0M768.2,706.6h0M772.6,706.6h0M751.2,710.9h0M755,710.9h0M1011.8,648.1h0M998.2,654.5h0M1007.8,654.5h0M129.3,606.5h0M81.8,645h0M88.1,645h0M162.9,576.9h0M171.1,576.1h0M216.2,564.1h0M209.2,583.2h0M215.9,588.6h0M202.9,581.2h0M151,584.8h0M154.6,584.8h0M158.2,584.8h0M163.8,582.7h0M163.8,586.8h0M173.3,582.2h0M173.3,586h0M179.2,584.3h0M183.4,586.2h0M187,585.1h0M191,589.8h0M197.2,582.2h0M197.2,586h0M146.9,590.8h0M148,595h0M148,598.8h0M148,602.5h0M148,606.2h0M148,610h0M148,613.8h0M148,617.7h0M148,621.4h0M148,625.1h0M148,628.9h0M196.1,597.4h0M202.7,595.5h0M202.7,599.4h0M196.4,603.6h0M196.4,607.4h0M196.4,611.2h0M205.2,607h0M205.2,610.8h0M205.2,614.6h0M205.2,618.4h0M194.4,617.3h0M198,617.3h0M200,624h0M200,627.4h0M191.7,628h0M191.7,631.8h0M197.7,633.9h0M201.7,633.9h0M156.3,630.1h0M160.3,630.1h0M165.1,632.5h0M169.1,632.5h0M173.1,632.5h0M177.1,632.5h0M181.1,632.5h0M185.2,632.5h0M156.7,640.7h0M167.2,644.9h0M171.2,644.9h0M174.8,644.9h0M180.1,651h0M170.8,664.8h0M140,665.5h0M140,668.9h0M140.1,672.4h0M162.5,668.2h0M161,672h0M179.8,670.1h0M187.8,668h0M191.4,668h0M195,668h0M198.7,668h0M208.2,668h0M215.2,668h0M224.3,666.1h0M224.3,669.9h0M230.5,668h0M234.1,668h0M239.6,666.4h0M256.2,624.9h0M260.2,624.9h0M264.8,625.9h0M268.3,625.9h0M257.1,631.8h0M257.1,635.6h0M257.1,639.4h0M257.1,642.7h0M244.7,639.8h0M237.1,652.9h0M259.1,648h0M249.2,654.6h0M249.2,658.5h0M257.4,654.3h0M257.4,657.9h0M278.1,613.8h0M282.9,613.8h0M288,615.4h0M293,613.8h0M296.8,613.8h0M300.6,613.8h0M322.7,613.8h0M327.5,613.8h0M332.6,615.4h0M337.6,613.8h0M341.4,613.8h0M345.2,613.8h0M367.7,613.8h0M372.5,613.8h0M377.6,615.4h0M382.6,613.8h0M386.4,613.8h0M390.2,613.8h0M409.7,613.8h0M414.4,613.8h0M419.6,615.4h0M424.5,613.8h0M428.4,613.8h0M432.2,613.8h0M272.4,591.3h0M272.4,600.2h0M307.1,587.9h0M307.1,597h0M307.1,606h0M316.8,590.7h0M316.8,599.8h0M351.5,587.9h0M351.5,597h0M351.5,606h0M362,591.7h0M362,600.6h0M396.7,587h0M396.7,595.4h0M396.7,603.7h0M403.9,590h0M403.9,598.9h0M438.6,587.4h0M438.6,596.4h0M438.6,605h0M279.1,625.9h0M286.7,628.9h0M295.3,626.8h0M313,629.4h0M319.1,629.4h0M334.9,632.2h0M295.8,639h0M300,648.6h0M304.2,648.6h0M297.2,659.8h0M303.3,660h0M266,667.2h0M269.6,667.2h0M273.3,667.2h0M267.6,673.1h0M284.8,666.8h0M293.4,666.1h0M293.4,669.9h0M278.1,672h0M281.9,672h0M286.7,672.5h0M293.4,673.4h0M396.3,642.5h0M404.9,642.3h0M383.9,652.7h0M387.2,663.8h0M387.2,672.2h0M434.7,629.9h0M436.2,672h0M133.5,680.4h0M82.5,702.8h0M83.9,711.5h0M82.1,721.9h0M81.8,730h0M136.7,730h0M136.7,738.3h0M136.7,746.5h0M136.7,754.6h0M254.6,677.5h0M254.6,683.6h0M255.3,688.6h0M294,686.3h0M298,686.3h0M304.3,690.6h0M308.2,690.6h0M308,725h0M308,729.2h0M308,733.5h0M307.7,742.2h0M307.7,746.2h0M307.7,750.2h0M307.7,754.3h0M307.7,758.4h0M443,674.8h0M447,674.8h0M268,677h0M268,681.3h0M540.4,674.1h0M540.4,677.7h0M1029.4,635.4h0M1029.4,639.4h0M1029.4,643.4h0M1029.4,647.5h0M1029.4,655h0M1029.4,659h0M1029.4,664.6h0M1029.4,668.6h0M1027.6,673.6h0M1027.6,679.3h0M1027.6,684.9h0M1027.6,690.4h0M1092.1,599.4h0M1092.4,603.6h0M1092.4,607.1h0M1089.2,626.9h0M1090.2,641.2h0M1090.2,644.6h0M1090.5,661.4h0M1090.5,664.8h0M1091,668.3h0M1091,681h0M1046.9,711.6h0M1074.7,696.3h0M1076,703.6h0M1080,703.6h0M1078,709.8h0M1085.6,704.9h0M1132.8,592.2h0M1132.8,595.6h0M1132.4,599h0M1139,593.6h0M1158.5,584h0M1158.5,587.4h0M1156.8,592.9h0M1160.2,596.8h0M1160.2,605h0M1160.2,608.4h0M1152.3,613h0M1164,613h0M1164,617.2h0M1139.6,608.8h0M1143.7,652.1h0M1143.7,655.9h0M1155.3,652.4h0M1155.3,656.1h0M1113.7,665.4h0M1113.7,669.2h0M1113.7,673h0M1143.8,664.8h0M1143.8,668.7h0M1143.8,672.7h0M1116.1,679.4h0M1120.2,679.4h0M1124.3,679.4h0M1128.5,679.4h0M1132.6,679.4h0M1136.7,679.4h0M1140.9,679.4h0M1145.3,704.9h0M1150.7,703.9h0M1162.1,703.9h0M1169.9,704.7h0M1153.7,710.4h0M1162.1,710.4h0M1174.1,712h0M1227.5,602.1h0M1227.5,608.6h0M1238.9,597.3h0M1245,595.2h0M1250.6,602.1h0M1250.6,608.6h0M1238.9,620.1h0M1282.8,590.7h0M1293,588.7h0M1298.8,590.9h0M1295.4,599.2h0M1298.8,599.2h0M1304.9,590.9h0M1311.8,591.1h0M1317.6,588.7h0M1327.8,589.5h0M1331.4,589.2h0M1303.3,638.9h0M1315.2,638.9h0M1188.8,669.6h0M1203.7,679.6h0M1210.2,680.5h0M1213.7,680.5h0M1217.5,684.9h0M1217.5,688.4h0M1217.5,695.7h0M1230.1,687.8h0M1232.1,693.1h0M1238.5,692.2h0M1193.3,697h0M1193.3,703.1h0M1200.7,700.3h0M1205,704.6h0M1213,703.2h0M1219,708.9h0M1220,716h0M1210.2,720.1h0M1293,691.4h0M1304,703.5h0M1349.2,702.4h0M1350.9,707.3h0M1362.1,605.9h0M1365.7,621.6h0M1396.7,633.1h0M1405,633.1h0M1397.6,637.1h0M1403.9,637.1h0M1377.5,645.8h0M1378.4,649.6h0M1383,646.7h0M1387,650.1h0M1387,653.3h0M1393.8,653.1h0M1401,653.3h0M1406.5,657.4h0M1374.4,660.2h0M1380.6,664.3h0M1385.5,660.2h0M1386.2,666.4h0M1389.1,666.4h0M1392.5,660.2h0M1395.8,662.7h0M1398.7,662.7h0M1401.7,662.7h0M1404.7,662.7h0M1369.2,665.6h0M1369.2,668.7h0M1369.2,671.8h0M1403.7,671.9h0M1403.7,674.9h0M1377.6,678.7h0M1383,678h0M1391.8,676.9h0M1399.1,679.4h0M1404.8,682.3h0M1408.5,682.3h0M1385.5,682.8h0M1362.4,683.8h0M1415.7,678.4h0M1415.7,681.7h0M1417.1,685h0M1416.7,689.7h0M1367.5,689.1h0M1367.5,692.2h0M1377.7,689.4h0M1383,687.9h0M1386.3,690.8h0M1390.1,691.8h0M1393.8,691.8h0M1400.4,692.2h0M1404.8,690.2h0M1368.8,696.4h0M1368,699.3h0M1360.6,701.5h0M1376.1,702.5h0M1366.7,708.5h0M1369.6,708.5h0M1372.5,708.5h0M1375.4,708.5h0M1403.8,700.3h0M1403.8,703.6h0M1441.3,583.3h0M1441.3,587.4h0M1441.3,591.4h0M1441.3,595.4h0M1441.3,607.4h0M1441.3,611.6h0M1441.3,615.7h0M1441.3,619.8h0M1429.8,662.8h0M1429.8,666.4h0M1440.2,662h0M1440.2,666.2h0M1446,664.5h0M1459,669.9h0M1441.2,678h0M1441.2,681.3h0M1448.9,679.3h0M1454.1,583.5h4.1M1454.1,587h4.1M1454.1,590.5h4.1M1454.1,594h4.1M1454.1,598.8h4.1M1454.1,602.1h4.1M1454.1,605.4h4.1M1454.1,608.7h4.1M1454.1,613.6h4.1M1454.1,616.9h4.1M1454.1,620.2h4.1M1454.1,623.5h4.1M1453.9,427.3h0M1453.9,431.7h0M1425.3,442.7h0M1425.3,446.8h0M1435.8,442.7h0M1435.8,446.8h0M1435.8,452h0M1435.8,455.8h0M1441.8,463.6h0M1435.7,466.7h0M1453.1,460.8h0M1452.2,465.5h0M1452.2,471.1h0M1454.1,475.5h0M1454,504.5h0M1387.4,517.2h0M1402.9,518.5h0M1414.7,514.9h0M1431.2,514.9h0M1453.7,518.1h0M1453.7,521.9h0M1453.6,534.4h0M1353.4,549.9h0M1352.2,555.5h0M1352.2,558.8h0M1352.2,562.1h0M1352.2,565.4h0M1352.2,568.7h0M1359.2,556h0M1362.7,556h0M1370.1,557.1h0M1371,563.2h0M1346.6,573.9h0M1358.9,574.9h0M1365,574.2h0M1368.4,574.2h0M1428.8,424.5h2.4M1428.8,427.7h2.4M1428.8,432.2h2.4M1428.8,435.7h2.4M1446.1,443.7h5.9M1446.1,447.2h5.9M1446.1,450.7h5.9M1446.1,454.2h5.9M1517.3,306.5h0M1428.2,337.3h0M1439,337.7h0M1471.1,336.7h0M1471.1,340.8h0M1471.1,346h0M1458.7,371.7h0M1431.8,366.8h0M1431.8,401h0M1464.9,393.4h0M1471.1,394.7h0M1479.5,402.8h0M1479.5,406.6h0" fill="none" stroke="#181818" stroke-width="1.2" stroke-linecap="round"/>
</svg>
<svg id="tip" width="1541" height="787" viewBox="0 0 1541 787">
<path d="M752.05,399.9V439.9M731.9,420.05H772.1" stroke="#9c767e" stroke-width="2" fill="none"/>
<rect x="509" y="243.4" width="520.6" height="67.6" fill="#fff"/>
<circle cx="522" cy="256.2" r="7.6" fill="#0a6fd0"/>
<rect x="521" y="254.8" width="2.1" height="6.2" fill="#fff"/><circle cx="522.05" cy="252.3" r="1.25" fill="#fff"/>
<text class="b" x="535.5" y="257">UG9</text>
<text class="m" x="575" y="273.5" xml:space="preserve">Вывод: —</text>
<text class="m" x="567" y="289.5" xml:space="preserve">Сигнал: —</text>
<text class="m" x="535" y="305.5" xml:space="preserve">Информация: N18E-G3-ES-A1_FCBGA_2228P N18E-G3-ES-A1_FCBGA2228</text>
</svg>
</body></html>
